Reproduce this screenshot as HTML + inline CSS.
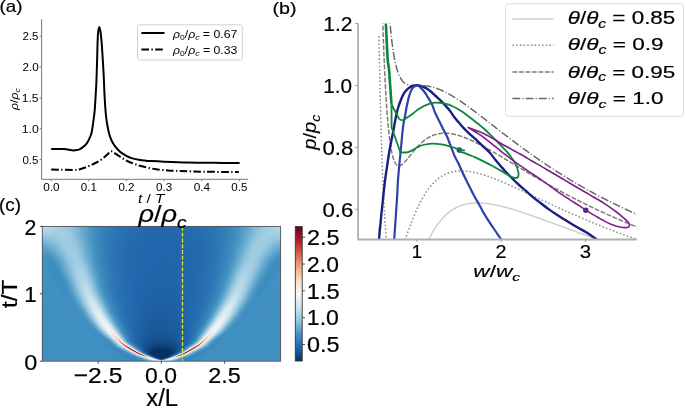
<!DOCTYPE html>
<html><head><meta charset="utf-8"><title>figure</title><style>
html,body{margin:0;padding:0;background:#fff;width:685px;height:408px;overflow:hidden}
#hm{position:absolute;left:42px;top:226px;width:239px;height:135px}
svg{position:absolute;left:0;top:0}
text{font-family:"Liberation Sans",sans-serif;fill:#000}text.b{stroke:#000;stroke-width:0.2px}
</style></head><body>
<svg id="fb" width="685" height="408" style="position:absolute;left:0;top:0"><defs><linearGradient id="h0"><stop offset="0.000" stop-color="#bedbeb"/><stop offset="0.034" stop-color="#b4d6e8"/><stop offset="0.067" stop-color="#a6cfe4"/><stop offset="0.101" stop-color="#99c9e0"/><stop offset="0.134" stop-color="#81bad8"/><stop offset="0.168" stop-color="#63a7ce"/><stop offset="0.202" stop-color="#4795c4"/><stop offset="0.235" stop-color="#3b88bd"/><stop offset="0.269" stop-color="#337eb8"/><stop offset="0.303" stop-color="#2e77b5"/><stop offset="0.336" stop-color="#2a71b2"/><stop offset="0.370" stop-color="#276eb0"/><stop offset="0.403" stop-color="#256baf"/><stop offset="0.437" stop-color="#2469ae"/><stop offset="0.471" stop-color="#2368ad"/><stop offset="0.504" stop-color="#2268ad"/><stop offset="0.538" stop-color="#2268ad"/><stop offset="0.571" stop-color="#2368ad"/><stop offset="0.605" stop-color="#246aae"/><stop offset="0.639" stop-color="#256caf"/><stop offset="0.672" stop-color="#286fb0"/><stop offset="0.706" stop-color="#2b73b3"/><stop offset="0.739" stop-color="#2f79b6"/><stop offset="0.773" stop-color="#3581ba"/><stop offset="0.807" stop-color="#3d8cbf"/><stop offset="0.840" stop-color="#4e9ac7"/><stop offset="0.874" stop-color="#6badd1"/><stop offset="0.908" stop-color="#8ac0db"/><stop offset="0.941" stop-color="#9ecbe1"/><stop offset="0.975" stop-color="#aad1e5"/><stop offset="1.000" stop-color="#b5d7e8"/></linearGradient><linearGradient id="h1"><stop offset="0.000" stop-color="#b2d5e7"/><stop offset="0.034" stop-color="#add3e6"/><stop offset="0.067" stop-color="#a6cfe4"/><stop offset="0.101" stop-color="#9ccae1"/><stop offset="0.134" stop-color="#86bdda"/><stop offset="0.168" stop-color="#66a9cf"/><stop offset="0.202" stop-color="#4896c5"/><stop offset="0.235" stop-color="#3b88be"/><stop offset="0.269" stop-color="#337eb8"/><stop offset="0.303" stop-color="#2d76b4"/><stop offset="0.336" stop-color="#2971b2"/><stop offset="0.370" stop-color="#266db0"/><stop offset="0.403" stop-color="#256bae"/><stop offset="0.437" stop-color="#2369ae"/><stop offset="0.471" stop-color="#2268ad"/><stop offset="0.504" stop-color="#2267ad"/><stop offset="0.538" stop-color="#2267ad"/><stop offset="0.571" stop-color="#2368ad"/><stop offset="0.605" stop-color="#2469ae"/><stop offset="0.639" stop-color="#256baf"/><stop offset="0.672" stop-color="#276eb0"/><stop offset="0.706" stop-color="#2a73b2"/><stop offset="0.739" stop-color="#2f79b6"/><stop offset="0.773" stop-color="#3581ba"/><stop offset="0.807" stop-color="#3e8dc0"/><stop offset="0.840" stop-color="#529cc8"/><stop offset="0.874" stop-color="#71b0d3"/><stop offset="0.908" stop-color="#90c4dd"/><stop offset="0.941" stop-color="#a1cce2"/><stop offset="0.975" stop-color="#a8d0e4"/><stop offset="1.000" stop-color="#aed3e6"/></linearGradient><linearGradient id="h2"><stop offset="0.000" stop-color="#a3cee3"/><stop offset="0.034" stop-color="#a4cee3"/><stop offset="0.067" stop-color="#a3cee3"/><stop offset="0.101" stop-color="#9fcbe2"/><stop offset="0.134" stop-color="#8ac0db"/><stop offset="0.168" stop-color="#68aad0"/><stop offset="0.202" stop-color="#4896c5"/><stop offset="0.235" stop-color="#3a88bd"/><stop offset="0.269" stop-color="#327db8"/><stop offset="0.303" stop-color="#2d75b4"/><stop offset="0.336" stop-color="#2970b1"/><stop offset="0.370" stop-color="#266caf"/><stop offset="0.403" stop-color="#246aae"/><stop offset="0.437" stop-color="#2368ad"/><stop offset="0.471" stop-color="#2267ad"/><stop offset="0.504" stop-color="#2267ac"/><stop offset="0.538" stop-color="#2267ad"/><stop offset="0.571" stop-color="#2268ad"/><stop offset="0.605" stop-color="#2369ae"/><stop offset="0.639" stop-color="#256bae"/><stop offset="0.672" stop-color="#276eb0"/><stop offset="0.706" stop-color="#2a72b2"/><stop offset="0.739" stop-color="#2e78b5"/><stop offset="0.773" stop-color="#3580ba"/><stop offset="0.807" stop-color="#3e8dc0"/><stop offset="0.840" stop-color="#539dc9"/><stop offset="0.874" stop-color="#75b3d4"/><stop offset="0.908" stop-color="#94c6df"/><stop offset="0.941" stop-color="#a2cde3"/><stop offset="0.975" stop-color="#a2cde3"/><stop offset="1.000" stop-color="#a4cee3"/></linearGradient><linearGradient id="h3"><stop offset="0.000" stop-color="#94c6df"/><stop offset="0.034" stop-color="#9ac9e0"/><stop offset="0.067" stop-color="#9fcbe2"/><stop offset="0.101" stop-color="#a0cce2"/><stop offset="0.134" stop-color="#8ec2dd"/><stop offset="0.168" stop-color="#6bacd1"/><stop offset="0.202" stop-color="#4997c5"/><stop offset="0.235" stop-color="#3a87bd"/><stop offset="0.269" stop-color="#327cb7"/><stop offset="0.303" stop-color="#2c75b4"/><stop offset="0.336" stop-color="#286fb1"/><stop offset="0.370" stop-color="#256caf"/><stop offset="0.403" stop-color="#246aae"/><stop offset="0.437" stop-color="#2368ad"/><stop offset="0.471" stop-color="#2267ad"/><stop offset="0.504" stop-color="#2267ac"/><stop offset="0.538" stop-color="#2267ac"/><stop offset="0.571" stop-color="#2268ad"/><stop offset="0.605" stop-color="#2369ad"/><stop offset="0.639" stop-color="#246aae"/><stop offset="0.672" stop-color="#266db0"/><stop offset="0.706" stop-color="#2a71b2"/><stop offset="0.739" stop-color="#2e78b5"/><stop offset="0.773" stop-color="#3581ba"/><stop offset="0.807" stop-color="#3f8dc0"/><stop offset="0.840" stop-color="#569fca"/><stop offset="0.874" stop-color="#7ab6d6"/><stop offset="0.908" stop-color="#98c8e0"/><stop offset="0.941" stop-color="#a1cde2"/><stop offset="0.975" stop-color="#9ccae1"/><stop offset="1.000" stop-color="#99c9e0"/></linearGradient><linearGradient id="h4"><stop offset="0.000" stop-color="#83bbd9"/><stop offset="0.034" stop-color="#8ec2dd"/><stop offset="0.067" stop-color="#99c9e0"/><stop offset="0.101" stop-color="#a1cce2"/><stop offset="0.134" stop-color="#92c5de"/><stop offset="0.168" stop-color="#6eaed2"/><stop offset="0.202" stop-color="#4b98c6"/><stop offset="0.235" stop-color="#3a88bd"/><stop offset="0.269" stop-color="#327cb7"/><stop offset="0.303" stop-color="#2c74b3"/><stop offset="0.336" stop-color="#286fb1"/><stop offset="0.370" stop-color="#256caf"/><stop offset="0.403" stop-color="#2369ae"/><stop offset="0.437" stop-color="#2268ad"/><stop offset="0.471" stop-color="#2267ac"/><stop offset="0.504" stop-color="#2167ac"/><stop offset="0.538" stop-color="#2267ac"/><stop offset="0.571" stop-color="#2267ad"/><stop offset="0.605" stop-color="#2368ad"/><stop offset="0.639" stop-color="#246aae"/><stop offset="0.672" stop-color="#266db0"/><stop offset="0.706" stop-color="#2971b2"/><stop offset="0.739" stop-color="#2e78b5"/><stop offset="0.773" stop-color="#3581ba"/><stop offset="0.807" stop-color="#3f8ec1"/><stop offset="0.840" stop-color="#5aa2cb"/><stop offset="0.874" stop-color="#7fb9d8"/><stop offset="0.908" stop-color="#9ccae1"/><stop offset="0.941" stop-color="#9fcce2"/><stop offset="0.975" stop-color="#93c6de"/><stop offset="1.000" stop-color="#8cc1dc"/></linearGradient><linearGradient id="h5"><stop offset="0.000" stop-color="#72b1d3"/><stop offset="0.034" stop-color="#80bad8"/><stop offset="0.067" stop-color="#93c6de"/><stop offset="0.101" stop-color="#a0cce2"/><stop offset="0.134" stop-color="#95c7df"/><stop offset="0.168" stop-color="#72b1d3"/><stop offset="0.202" stop-color="#4d99c6"/><stop offset="0.235" stop-color="#3b88bd"/><stop offset="0.269" stop-color="#327cb7"/><stop offset="0.303" stop-color="#2c74b3"/><stop offset="0.336" stop-color="#286fb0"/><stop offset="0.370" stop-color="#256baf"/><stop offset="0.403" stop-color="#2369ae"/><stop offset="0.437" stop-color="#2268ad"/><stop offset="0.471" stop-color="#2267ac"/><stop offset="0.504" stop-color="#2166ac"/><stop offset="0.538" stop-color="#2167ac"/><stop offset="0.571" stop-color="#2267ad"/><stop offset="0.605" stop-color="#2368ad"/><stop offset="0.639" stop-color="#246aae"/><stop offset="0.672" stop-color="#266db0"/><stop offset="0.706" stop-color="#2971b2"/><stop offset="0.739" stop-color="#2e78b5"/><stop offset="0.773" stop-color="#3681ba"/><stop offset="0.807" stop-color="#4090c1"/><stop offset="0.840" stop-color="#5ea4cc"/><stop offset="0.874" stop-color="#85bdda"/><stop offset="0.908" stop-color="#9ecbe2"/><stop offset="0.941" stop-color="#9ccae1"/><stop offset="0.975" stop-color="#89bfdb"/><stop offset="1.000" stop-color="#7db8d7"/></linearGradient><linearGradient id="h6"><stop offset="0.000" stop-color="#63a7ce"/><stop offset="0.034" stop-color="#73b1d3"/><stop offset="0.067" stop-color="#8bc1dc"/><stop offset="0.101" stop-color="#9fcce2"/><stop offset="0.134" stop-color="#99c8e0"/><stop offset="0.168" stop-color="#76b3d5"/><stop offset="0.202" stop-color="#4f9bc7"/><stop offset="0.235" stop-color="#3b88be"/><stop offset="0.269" stop-color="#327cb7"/><stop offset="0.303" stop-color="#2c74b3"/><stop offset="0.336" stop-color="#286fb0"/><stop offset="0.370" stop-color="#256baf"/><stop offset="0.403" stop-color="#2369ad"/><stop offset="0.437" stop-color="#2267ad"/><stop offset="0.471" stop-color="#2167ac"/><stop offset="0.504" stop-color="#2166ac"/><stop offset="0.538" stop-color="#2166ac"/><stop offset="0.571" stop-color="#2267ac"/><stop offset="0.605" stop-color="#2368ad"/><stop offset="0.639" stop-color="#246aae"/><stop offset="0.672" stop-color="#266daf"/><stop offset="0.706" stop-color="#2971b2"/><stop offset="0.739" stop-color="#2f78b5"/><stop offset="0.773" stop-color="#3682ba"/><stop offset="0.807" stop-color="#4291c2"/><stop offset="0.840" stop-color="#63a8ce"/><stop offset="0.874" stop-color="#8cc1dc"/><stop offset="0.908" stop-color="#a0cce2"/><stop offset="0.941" stop-color="#97c7df"/><stop offset="0.975" stop-color="#7db8d7"/><stop offset="1.000" stop-color="#6eaed2"/></linearGradient><linearGradient id="h7"><stop offset="0.000" stop-color="#569fc9"/><stop offset="0.034" stop-color="#66a9cf"/><stop offset="0.067" stop-color="#82bbd9"/><stop offset="0.101" stop-color="#9ccae1"/><stop offset="0.134" stop-color="#9ccae1"/><stop offset="0.168" stop-color="#7bb7d6"/><stop offset="0.202" stop-color="#529dc8"/><stop offset="0.235" stop-color="#3c89be"/><stop offset="0.269" stop-color="#327cb7"/><stop offset="0.303" stop-color="#2c74b3"/><stop offset="0.336" stop-color="#276eb0"/><stop offset="0.370" stop-color="#256baf"/><stop offset="0.403" stop-color="#2369ad"/><stop offset="0.437" stop-color="#2267ad"/><stop offset="0.471" stop-color="#2166ac"/><stop offset="0.504" stop-color="#2166ac"/><stop offset="0.538" stop-color="#2166ac"/><stop offset="0.571" stop-color="#2267ac"/><stop offset="0.605" stop-color="#2268ad"/><stop offset="0.639" stop-color="#246aae"/><stop offset="0.672" stop-color="#266daf"/><stop offset="0.706" stop-color="#2a71b2"/><stop offset="0.739" stop-color="#2f78b5"/><stop offset="0.773" stop-color="#3783bb"/><stop offset="0.807" stop-color="#4393c3"/><stop offset="0.840" stop-color="#69abd0"/><stop offset="0.874" stop-color="#92c5de"/><stop offset="0.908" stop-color="#a0cce2"/><stop offset="0.941" stop-color="#8fc3dd"/><stop offset="0.975" stop-color="#70b0d3"/><stop offset="1.000" stop-color="#5fa5cd"/></linearGradient><linearGradient id="h8"><stop offset="0.000" stop-color="#4c99c6"/><stop offset="0.034" stop-color="#59a1ca"/><stop offset="0.067" stop-color="#78b4d5"/><stop offset="0.101" stop-color="#98c8e0"/><stop offset="0.134" stop-color="#9ecbe1"/><stop offset="0.168" stop-color="#80bad8"/><stop offset="0.202" stop-color="#559ec9"/><stop offset="0.235" stop-color="#3c8abe"/><stop offset="0.269" stop-color="#327cb7"/><stop offset="0.303" stop-color="#2b74b3"/><stop offset="0.336" stop-color="#276eb0"/><stop offset="0.370" stop-color="#256bae"/><stop offset="0.403" stop-color="#2368ad"/><stop offset="0.437" stop-color="#2267ad"/><stop offset="0.471" stop-color="#2166ac"/><stop offset="0.504" stop-color="#2166ac"/><stop offset="0.538" stop-color="#2166ac"/><stop offset="0.571" stop-color="#2167ac"/><stop offset="0.605" stop-color="#2268ad"/><stop offset="0.639" stop-color="#246aae"/><stop offset="0.672" stop-color="#266daf"/><stop offset="0.706" stop-color="#2a71b2"/><stop offset="0.739" stop-color="#2f79b6"/><stop offset="0.773" stop-color="#3884bb"/><stop offset="0.807" stop-color="#4695c4"/><stop offset="0.840" stop-color="#6fafd2"/><stop offset="0.874" stop-color="#97c7df"/><stop offset="0.908" stop-color="#9fcbe2"/><stop offset="0.941" stop-color="#86bdda"/><stop offset="0.975" stop-color="#63a7ce"/><stop offset="1.000" stop-color="#519cc8"/></linearGradient><linearGradient id="h9"><stop offset="0.000" stop-color="#4595c4"/><stop offset="0.034" stop-color="#4d99c6"/><stop offset="0.067" stop-color="#6daed1"/><stop offset="0.101" stop-color="#93c6de"/><stop offset="0.134" stop-color="#a0cce2"/><stop offset="0.168" stop-color="#85bdda"/><stop offset="0.202" stop-color="#58a0ca"/><stop offset="0.235" stop-color="#3c8abf"/><stop offset="0.269" stop-color="#327cb7"/><stop offset="0.303" stop-color="#2b74b3"/><stop offset="0.336" stop-color="#276eb0"/><stop offset="0.370" stop-color="#246aae"/><stop offset="0.403" stop-color="#2368ad"/><stop offset="0.437" stop-color="#2267ac"/><stop offset="0.471" stop-color="#2166ac"/><stop offset="0.504" stop-color="#2166ab"/><stop offset="0.538" stop-color="#2166ac"/><stop offset="0.571" stop-color="#2166ac"/><stop offset="0.605" stop-color="#2268ad"/><stop offset="0.639" stop-color="#246aae"/><stop offset="0.672" stop-color="#266daf"/><stop offset="0.706" stop-color="#2a71b2"/><stop offset="0.739" stop-color="#2f79b6"/><stop offset="0.773" stop-color="#3885bc"/><stop offset="0.807" stop-color="#4a97c5"/><stop offset="0.840" stop-color="#75b3d4"/><stop offset="0.874" stop-color="#9bc9e1"/><stop offset="0.908" stop-color="#9bcae1"/><stop offset="0.941" stop-color="#7bb6d6"/><stop offset="0.975" stop-color="#569fca"/><stop offset="1.000" stop-color="#4695c4"/></linearGradient><linearGradient id="h10"><stop offset="0.000" stop-color="#4392c3"/><stop offset="0.034" stop-color="#4493c3"/><stop offset="0.067" stop-color="#62a7ce"/><stop offset="0.101" stop-color="#8cc1dc"/><stop offset="0.134" stop-color="#a0cce2"/><stop offset="0.168" stop-color="#8ac0db"/><stop offset="0.202" stop-color="#5aa2cb"/><stop offset="0.235" stop-color="#3d8bbf"/><stop offset="0.269" stop-color="#327cb7"/><stop offset="0.303" stop-color="#2b73b3"/><stop offset="0.336" stop-color="#276eb0"/><stop offset="0.370" stop-color="#246aae"/><stop offset="0.403" stop-color="#2268ad"/><stop offset="0.437" stop-color="#2167ac"/><stop offset="0.471" stop-color="#2166ac"/><stop offset="0.504" stop-color="#2165ab"/><stop offset="0.538" stop-color="#2166ab"/><stop offset="0.571" stop-color="#2166ac"/><stop offset="0.605" stop-color="#2267ad"/><stop offset="0.639" stop-color="#2469ae"/><stop offset="0.672" stop-color="#266caf"/><stop offset="0.706" stop-color="#2971b2"/><stop offset="0.739" stop-color="#2f79b6"/><stop offset="0.773" stop-color="#3985bc"/><stop offset="0.807" stop-color="#4d99c6"/><stop offset="0.840" stop-color="#7bb6d6"/><stop offset="0.874" stop-color="#9ecbe1"/><stop offset="0.908" stop-color="#96c7df"/><stop offset="0.941" stop-color="#6fafd2"/><stop offset="0.975" stop-color="#4a97c5"/><stop offset="1.000" stop-color="#4191c2"/></linearGradient><linearGradient id="h11"><stop offset="0.000" stop-color="#4292c2"/><stop offset="0.034" stop-color="#408fc1"/><stop offset="0.067" stop-color="#57a0ca"/><stop offset="0.101" stop-color="#84bcd9"/><stop offset="0.134" stop-color="#a0cce2"/><stop offset="0.168" stop-color="#8fc3dd"/><stop offset="0.202" stop-color="#5da4cc"/><stop offset="0.235" stop-color="#3d8bbf"/><stop offset="0.269" stop-color="#327cb7"/><stop offset="0.303" stop-color="#2b73b3"/><stop offset="0.336" stop-color="#276db0"/><stop offset="0.370" stop-color="#246aae"/><stop offset="0.403" stop-color="#2268ad"/><stop offset="0.437" stop-color="#2166ac"/><stop offset="0.471" stop-color="#2166ab"/><stop offset="0.504" stop-color="#2165ab"/><stop offset="0.538" stop-color="#2165ab"/><stop offset="0.571" stop-color="#2166ac"/><stop offset="0.605" stop-color="#2267ad"/><stop offset="0.639" stop-color="#2369ae"/><stop offset="0.672" stop-color="#266caf"/><stop offset="0.706" stop-color="#2971b2"/><stop offset="0.739" stop-color="#2f79b6"/><stop offset="0.773" stop-color="#3986bc"/><stop offset="0.807" stop-color="#519cc8"/><stop offset="0.840" stop-color="#82bbd8"/><stop offset="0.874" stop-color="#a0cce2"/><stop offset="0.908" stop-color="#90c3dd"/><stop offset="0.941" stop-color="#63a7ce"/><stop offset="0.975" stop-color="#4291c2"/><stop offset="1.000" stop-color="#408fc1"/></linearGradient><linearGradient id="h12"><stop offset="0.000" stop-color="#4292c2"/><stop offset="0.034" stop-color="#3f8dc0"/><stop offset="0.067" stop-color="#4f9bc7"/><stop offset="0.101" stop-color="#7db8d7"/><stop offset="0.134" stop-color="#a1cde2"/><stop offset="0.168" stop-color="#97c7df"/><stop offset="0.202" stop-color="#64a8ce"/><stop offset="0.235" stop-color="#3e8dc0"/><stop offset="0.269" stop-color="#327db8"/><stop offset="0.303" stop-color="#2b73b3"/><stop offset="0.336" stop-color="#276db0"/><stop offset="0.370" stop-color="#246aae"/><stop offset="0.403" stop-color="#2268ad"/><stop offset="0.437" stop-color="#2166ac"/><stop offset="0.471" stop-color="#2165ab"/><stop offset="0.504" stop-color="#2065ab"/><stop offset="0.538" stop-color="#2165ab"/><stop offset="0.571" stop-color="#2166ac"/><stop offset="0.605" stop-color="#2267ad"/><stop offset="0.639" stop-color="#2369ae"/><stop offset="0.672" stop-color="#266caf"/><stop offset="0.706" stop-color="#2a71b2"/><stop offset="0.739" stop-color="#307ab6"/><stop offset="0.773" stop-color="#3b88bd"/><stop offset="0.807" stop-color="#57a0ca"/><stop offset="0.840" stop-color="#8cc1dc"/><stop offset="0.874" stop-color="#a4cee3"/><stop offset="0.908" stop-color="#89bfdb"/><stop offset="0.941" stop-color="#5aa1cb"/><stop offset="0.975" stop-color="#3f8ec1"/><stop offset="1.000" stop-color="#408fc1"/></linearGradient><linearGradient id="h13"><stop offset="0.000" stop-color="#4292c2"/><stop offset="0.034" stop-color="#3e8dc0"/><stop offset="0.067" stop-color="#4796c5"/><stop offset="0.101" stop-color="#76b4d5"/><stop offset="0.134" stop-color="#a1cce2"/><stop offset="0.168" stop-color="#9ecbe1"/><stop offset="0.202" stop-color="#6bacd1"/><stop offset="0.235" stop-color="#408fc1"/><stop offset="0.269" stop-color="#337eb8"/><stop offset="0.303" stop-color="#2b73b3"/><stop offset="0.336" stop-color="#276db0"/><stop offset="0.370" stop-color="#246aae"/><stop offset="0.403" stop-color="#2267ad"/><stop offset="0.437" stop-color="#2166ac"/><stop offset="0.471" stop-color="#2065ab"/><stop offset="0.504" stop-color="#2065aa"/><stop offset="0.538" stop-color="#2065aa"/><stop offset="0.571" stop-color="#2166ac"/><stop offset="0.605" stop-color="#2267ad"/><stop offset="0.639" stop-color="#2369ae"/><stop offset="0.672" stop-color="#266daf"/><stop offset="0.706" stop-color="#2a72b2"/><stop offset="0.739" stop-color="#317bb7"/><stop offset="0.773" stop-color="#3c8abe"/><stop offset="0.807" stop-color="#5fa5cd"/><stop offset="0.840" stop-color="#96c7df"/><stop offset="0.874" stop-color="#a5cfe3"/><stop offset="0.908" stop-color="#82bbd8"/><stop offset="0.941" stop-color="#509bc7"/><stop offset="0.975" stop-color="#3e8dc0"/><stop offset="1.000" stop-color="#408fc1"/></linearGradient><linearGradient id="h14"><stop offset="0.000" stop-color="#4292c2"/><stop offset="0.034" stop-color="#3f8dc0"/><stop offset="0.067" stop-color="#4292c2"/><stop offset="0.101" stop-color="#6fafd2"/><stop offset="0.134" stop-color="#9fcce2"/><stop offset="0.168" stop-color="#a4cee3"/><stop offset="0.202" stop-color="#72b1d3"/><stop offset="0.235" stop-color="#4191c2"/><stop offset="0.269" stop-color="#337eb8"/><stop offset="0.303" stop-color="#2b74b3"/><stop offset="0.336" stop-color="#276eb0"/><stop offset="0.370" stop-color="#246aae"/><stop offset="0.403" stop-color="#2267ad"/><stop offset="0.437" stop-color="#2166ac"/><stop offset="0.471" stop-color="#2065aa"/><stop offset="0.504" stop-color="#2064aa"/><stop offset="0.538" stop-color="#2065aa"/><stop offset="0.571" stop-color="#2166ab"/><stop offset="0.605" stop-color="#2267ac"/><stop offset="0.639" stop-color="#2369ae"/><stop offset="0.672" stop-color="#266daf"/><stop offset="0.706" stop-color="#2a72b2"/><stop offset="0.739" stop-color="#327cb7"/><stop offset="0.773" stop-color="#3e8cc0"/><stop offset="0.807" stop-color="#67aacf"/><stop offset="0.840" stop-color="#9ecbe2"/><stop offset="0.874" stop-color="#a4cee3"/><stop offset="0.908" stop-color="#79b5d5"/><stop offset="0.941" stop-color="#4796c5"/><stop offset="0.975" stop-color="#3e8cc0"/><stop offset="1.000" stop-color="#4190c2"/></linearGradient><linearGradient id="h15"><stop offset="0.000" stop-color="#4292c2"/><stop offset="0.034" stop-color="#3f8ec0"/><stop offset="0.067" stop-color="#408fc1"/><stop offset="0.101" stop-color="#67aacf"/><stop offset="0.134" stop-color="#9ccae1"/><stop offset="0.168" stop-color="#abd1e5"/><stop offset="0.202" stop-color="#7bb6d6"/><stop offset="0.235" stop-color="#4393c3"/><stop offset="0.269" stop-color="#347fb9"/><stop offset="0.303" stop-color="#2c74b3"/><stop offset="0.336" stop-color="#276eb0"/><stop offset="0.370" stop-color="#246aae"/><stop offset="0.403" stop-color="#2267ad"/><stop offset="0.437" stop-color="#2166ab"/><stop offset="0.471" stop-color="#2064aa"/><stop offset="0.504" stop-color="#2064a9"/><stop offset="0.538" stop-color="#2064aa"/><stop offset="0.571" stop-color="#2165ab"/><stop offset="0.605" stop-color="#2267ac"/><stop offset="0.639" stop-color="#2369ae"/><stop offset="0.672" stop-color="#266daf"/><stop offset="0.706" stop-color="#2b73b3"/><stop offset="0.739" stop-color="#327db8"/><stop offset="0.773" stop-color="#408fc1"/><stop offset="0.807" stop-color="#71b0d3"/><stop offset="0.840" stop-color="#a6cfe4"/><stop offset="0.874" stop-color="#a2cde3"/><stop offset="0.908" stop-color="#6fafd2"/><stop offset="0.941" stop-color="#4291c2"/><stop offset="0.975" stop-color="#3f8dc0"/><stop offset="1.000" stop-color="#4191c2"/></linearGradient><linearGradient id="h16"><stop offset="0.000" stop-color="#4291c2"/><stop offset="0.034" stop-color="#408fc1"/><stop offset="0.067" stop-color="#3f8dc0"/><stop offset="0.101" stop-color="#5ea4cc"/><stop offset="0.134" stop-color="#98c8e0"/><stop offset="0.168" stop-color="#b0d4e6"/><stop offset="0.202" stop-color="#84bcd9"/><stop offset="0.235" stop-color="#4896c5"/><stop offset="0.269" stop-color="#3580b9"/><stop offset="0.303" stop-color="#2c74b3"/><stop offset="0.336" stop-color="#276eb0"/><stop offset="0.370" stop-color="#246aae"/><stop offset="0.403" stop-color="#2267ad"/><stop offset="0.437" stop-color="#2165ab"/><stop offset="0.471" stop-color="#2064aa"/><stop offset="0.504" stop-color="#2064a9"/><stop offset="0.538" stop-color="#2064a9"/><stop offset="0.571" stop-color="#2165ab"/><stop offset="0.605" stop-color="#2267ac"/><stop offset="0.639" stop-color="#2369ae"/><stop offset="0.672" stop-color="#266db0"/><stop offset="0.706" stop-color="#2b73b3"/><stop offset="0.739" stop-color="#337eb8"/><stop offset="0.773" stop-color="#4392c3"/><stop offset="0.807" stop-color="#7bb6d6"/><stop offset="0.840" stop-color="#aed3e6"/><stop offset="0.874" stop-color="#9dcbe1"/><stop offset="0.908" stop-color="#65a9cf"/><stop offset="0.941" stop-color="#408fc1"/><stop offset="0.975" stop-color="#3f8ec1"/><stop offset="1.000" stop-color="#4291c2"/></linearGradient><linearGradient id="h17"><stop offset="0.000" stop-color="#4291c2"/><stop offset="0.034" stop-color="#4190c1"/><stop offset="0.067" stop-color="#3e8dc0"/><stop offset="0.101" stop-color="#559ec9"/><stop offset="0.134" stop-color="#92c5de"/><stop offset="0.168" stop-color="#b3d6e8"/><stop offset="0.202" stop-color="#8ec2dc"/><stop offset="0.235" stop-color="#4c99c6"/><stop offset="0.269" stop-color="#3681ba"/><stop offset="0.303" stop-color="#2c75b4"/><stop offset="0.336" stop-color="#276eb0"/><stop offset="0.370" stop-color="#2469ae"/><stop offset="0.403" stop-color="#2267ac"/><stop offset="0.437" stop-color="#2065ab"/><stop offset="0.471" stop-color="#2064a9"/><stop offset="0.504" stop-color="#2064a9"/><stop offset="0.538" stop-color="#2064a9"/><stop offset="0.571" stop-color="#2065aa"/><stop offset="0.605" stop-color="#2167ac"/><stop offset="0.639" stop-color="#2369ae"/><stop offset="0.672" stop-color="#266db0"/><stop offset="0.706" stop-color="#2b74b3"/><stop offset="0.739" stop-color="#3480b9"/><stop offset="0.773" stop-color="#4796c4"/><stop offset="0.807" stop-color="#86beda"/><stop offset="0.840" stop-color="#b3d6e7"/><stop offset="0.874" stop-color="#97c7df"/><stop offset="0.908" stop-color="#5aa2cb"/><stop offset="0.941" stop-color="#3e8dc0"/><stop offset="0.975" stop-color="#4090c1"/><stop offset="1.000" stop-color="#4291c2"/></linearGradient><linearGradient id="h18"><stop offset="0.000" stop-color="#4191c2"/><stop offset="0.034" stop-color="#4191c2"/><stop offset="0.067" stop-color="#3e8dc0"/><stop offset="0.101" stop-color="#4c99c6"/><stop offset="0.134" stop-color="#89c0db"/><stop offset="0.168" stop-color="#b5d7e8"/><stop offset="0.202" stop-color="#96c7df"/><stop offset="0.235" stop-color="#519cc8"/><stop offset="0.269" stop-color="#3682ba"/><stop offset="0.303" stop-color="#2c75b4"/><stop offset="0.336" stop-color="#276eb0"/><stop offset="0.370" stop-color="#2469ae"/><stop offset="0.403" stop-color="#2267ac"/><stop offset="0.437" stop-color="#2065aa"/><stop offset="0.471" stop-color="#2064a9"/><stop offset="0.504" stop-color="#2063a8"/><stop offset="0.538" stop-color="#2063a9"/><stop offset="0.571" stop-color="#2065aa"/><stop offset="0.605" stop-color="#2167ac"/><stop offset="0.639" stop-color="#2369ae"/><stop offset="0.672" stop-color="#266db0"/><stop offset="0.706" stop-color="#2c74b3"/><stop offset="0.739" stop-color="#3581ba"/><stop offset="0.773" stop-color="#4d99c6"/><stop offset="0.807" stop-color="#92c5de"/><stop offset="0.840" stop-color="#b6d7e8"/><stop offset="0.874" stop-color="#8ec3dd"/><stop offset="0.908" stop-color="#509bc7"/><stop offset="0.941" stop-color="#3e8dc0"/><stop offset="0.975" stop-color="#4191c2"/><stop offset="1.000" stop-color="#4191c2"/></linearGradient><linearGradient id="h19"><stop offset="0.000" stop-color="#4190c2"/><stop offset="0.034" stop-color="#4191c2"/><stop offset="0.067" stop-color="#3f8ec0"/><stop offset="0.101" stop-color="#4594c4"/><stop offset="0.134" stop-color="#80bad8"/><stop offset="0.168" stop-color="#b6d7e8"/><stop offset="0.202" stop-color="#9fcce2"/><stop offset="0.235" stop-color="#579fca"/><stop offset="0.269" stop-color="#3783bb"/><stop offset="0.303" stop-color="#2d75b4"/><stop offset="0.336" stop-color="#276eb0"/><stop offset="0.370" stop-color="#2369ae"/><stop offset="0.403" stop-color="#2166ac"/><stop offset="0.437" stop-color="#2064aa"/><stop offset="0.471" stop-color="#2063a8"/><stop offset="0.504" stop-color="#1f63a8"/><stop offset="0.538" stop-color="#2063a8"/><stop offset="0.571" stop-color="#2064aa"/><stop offset="0.605" stop-color="#2166ac"/><stop offset="0.639" stop-color="#2369ae"/><stop offset="0.672" stop-color="#276db0"/><stop offset="0.706" stop-color="#2c75b4"/><stop offset="0.739" stop-color="#3682ba"/><stop offset="0.773" stop-color="#549dc9"/><stop offset="0.807" stop-color="#9ccae1"/><stop offset="0.840" stop-color="#b7d8e9"/><stop offset="0.874" stop-color="#84bcd9"/><stop offset="0.908" stop-color="#4795c4"/><stop offset="0.941" stop-color="#3f8dc0"/><stop offset="0.975" stop-color="#4191c2"/><stop offset="1.000" stop-color="#4191c2"/></linearGradient><linearGradient id="h20"><stop offset="0.000" stop-color="#4190c1"/><stop offset="0.034" stop-color="#4191c2"/><stop offset="0.067" stop-color="#408fc1"/><stop offset="0.101" stop-color="#4191c2"/><stop offset="0.134" stop-color="#76b3d5"/><stop offset="0.168" stop-color="#b4d6e8"/><stop offset="0.202" stop-color="#a8d0e4"/><stop offset="0.235" stop-color="#5da4cc"/><stop offset="0.269" stop-color="#3885bc"/><stop offset="0.303" stop-color="#2d76b4"/><stop offset="0.336" stop-color="#276eb0"/><stop offset="0.370" stop-color="#2369ae"/><stop offset="0.403" stop-color="#2166ac"/><stop offset="0.437" stop-color="#2064a9"/><stop offset="0.471" stop-color="#1f63a8"/><stop offset="0.504" stop-color="#1f62a7"/><stop offset="0.538" stop-color="#1f63a8"/><stop offset="0.571" stop-color="#2064a9"/><stop offset="0.605" stop-color="#2166ac"/><stop offset="0.639" stop-color="#2369ae"/><stop offset="0.672" stop-color="#276eb0"/><stop offset="0.706" stop-color="#2d75b4"/><stop offset="0.739" stop-color="#3884bb"/><stop offset="0.773" stop-color="#5ca3cb"/><stop offset="0.807" stop-color="#a7d0e4"/><stop offset="0.840" stop-color="#b5d7e8"/><stop offset="0.874" stop-color="#78b5d5"/><stop offset="0.908" stop-color="#4291c2"/><stop offset="0.941" stop-color="#408fc1"/><stop offset="0.975" stop-color="#4191c2"/><stop offset="1.000" stop-color="#4190c2"/></linearGradient><linearGradient id="h21"><stop offset="0.000" stop-color="#4190c1"/><stop offset="0.034" stop-color="#4191c2"/><stop offset="0.067" stop-color="#4090c1"/><stop offset="0.101" stop-color="#408fc1"/><stop offset="0.134" stop-color="#6cadd1"/><stop offset="0.168" stop-color="#b0d4e6"/><stop offset="0.202" stop-color="#b2d5e7"/><stop offset="0.235" stop-color="#66a9cf"/><stop offset="0.269" stop-color="#3a87bd"/><stop offset="0.303" stop-color="#2d76b4"/><stop offset="0.336" stop-color="#276eb0"/><stop offset="0.370" stop-color="#2369ae"/><stop offset="0.403" stop-color="#2166ac"/><stop offset="0.437" stop-color="#2064a9"/><stop offset="0.471" stop-color="#1f62a7"/><stop offset="0.504" stop-color="#1f62a6"/><stop offset="0.538" stop-color="#1f62a7"/><stop offset="0.571" stop-color="#2064a9"/><stop offset="0.605" stop-color="#2166ac"/><stop offset="0.639" stop-color="#2369ae"/><stop offset="0.672" stop-color="#276eb0"/><stop offset="0.706" stop-color="#2d76b4"/><stop offset="0.739" stop-color="#3a87bd"/><stop offset="0.773" stop-color="#66a9cf"/><stop offset="0.807" stop-color="#b2d5e7"/><stop offset="0.840" stop-color="#b0d4e6"/><stop offset="0.874" stop-color="#6cadd1"/><stop offset="0.908" stop-color="#408fc1"/><stop offset="0.941" stop-color="#4090c1"/><stop offset="0.975" stop-color="#4191c2"/><stop offset="1.000" stop-color="#4190c1"/></linearGradient><linearGradient id="h22"><stop offset="0.000" stop-color="#4090c1"/><stop offset="0.034" stop-color="#4191c2"/><stop offset="0.067" stop-color="#4190c2"/><stop offset="0.101" stop-color="#3f8ec0"/><stop offset="0.134" stop-color="#61a6cd"/><stop offset="0.168" stop-color="#a9d1e5"/><stop offset="0.202" stop-color="#bddbea"/><stop offset="0.235" stop-color="#71b0d3"/><stop offset="0.269" stop-color="#3c89be"/><stop offset="0.303" stop-color="#2e77b5"/><stop offset="0.336" stop-color="#276eb0"/><stop offset="0.370" stop-color="#2369ae"/><stop offset="0.403" stop-color="#2166ac"/><stop offset="0.437" stop-color="#2063a8"/><stop offset="0.471" stop-color="#1f62a6"/><stop offset="0.504" stop-color="#1f61a6"/><stop offset="0.538" stop-color="#1f62a6"/><stop offset="0.571" stop-color="#2063a8"/><stop offset="0.605" stop-color="#2166ac"/><stop offset="0.639" stop-color="#2369ae"/><stop offset="0.672" stop-color="#276eb0"/><stop offset="0.706" stop-color="#2e78b5"/><stop offset="0.739" stop-color="#3c8abe"/><stop offset="0.773" stop-color="#73b1d3"/><stop offset="0.807" stop-color="#bddbea"/><stop offset="0.840" stop-color="#a7d0e4"/><stop offset="0.874" stop-color="#5fa5cd"/><stop offset="0.908" stop-color="#3f8dc0"/><stop offset="0.941" stop-color="#4190c2"/><stop offset="0.975" stop-color="#4191c2"/><stop offset="1.000" stop-color="#4190c1"/></linearGradient><linearGradient id="h23"><stop offset="0.000" stop-color="#4090c1"/><stop offset="0.034" stop-color="#4190c2"/><stop offset="0.067" stop-color="#4191c2"/><stop offset="0.101" stop-color="#3f8ec0"/><stop offset="0.134" stop-color="#559fc9"/><stop offset="0.168" stop-color="#a1cde2"/><stop offset="0.202" stop-color="#c8e0ed"/><stop offset="0.235" stop-color="#81bad8"/><stop offset="0.269" stop-color="#3e8dc0"/><stop offset="0.303" stop-color="#2f79b6"/><stop offset="0.336" stop-color="#286fb0"/><stop offset="0.370" stop-color="#2369ae"/><stop offset="0.403" stop-color="#2166ab"/><stop offset="0.437" stop-color="#1f63a8"/><stop offset="0.471" stop-color="#1f61a6"/><stop offset="0.504" stop-color="#1e61a5"/><stop offset="0.538" stop-color="#1f62a6"/><stop offset="0.571" stop-color="#1f63a8"/><stop offset="0.605" stop-color="#2166ac"/><stop offset="0.639" stop-color="#2469ae"/><stop offset="0.672" stop-color="#286fb1"/><stop offset="0.706" stop-color="#3079b6"/><stop offset="0.739" stop-color="#3f8ec1"/><stop offset="0.773" stop-color="#86bdda"/><stop offset="0.807" stop-color="#c8e1ee"/><stop offset="0.840" stop-color="#9ecbe1"/><stop offset="0.874" stop-color="#539dc8"/><stop offset="0.908" stop-color="#3f8ec0"/><stop offset="0.941" stop-color="#4191c2"/><stop offset="0.975" stop-color="#4190c2"/><stop offset="1.000" stop-color="#4090c1"/></linearGradient><linearGradient id="h24"><stop offset="0.000" stop-color="#408fc1"/><stop offset="0.034" stop-color="#4190c1"/><stop offset="0.067" stop-color="#4291c2"/><stop offset="0.101" stop-color="#408fc1"/><stop offset="0.134" stop-color="#4a98c6"/><stop offset="0.168" stop-color="#96c7df"/><stop offset="0.202" stop-color="#cfe4ef"/><stop offset="0.235" stop-color="#94c6df"/><stop offset="0.269" stop-color="#4292c2"/><stop offset="0.303" stop-color="#307ab6"/><stop offset="0.336" stop-color="#286fb1"/><stop offset="0.370" stop-color="#2369ae"/><stop offset="0.403" stop-color="#2165ab"/><stop offset="0.437" stop-color="#1f63a7"/><stop offset="0.471" stop-color="#1e61a5"/><stop offset="0.504" stop-color="#1e60a4"/><stop offset="0.538" stop-color="#1e61a5"/><stop offset="0.571" stop-color="#1f63a7"/><stop offset="0.605" stop-color="#2166ab"/><stop offset="0.639" stop-color="#2469ae"/><stop offset="0.672" stop-color="#2870b1"/><stop offset="0.706" stop-color="#317bb7"/><stop offset="0.739" stop-color="#4594c4"/><stop offset="0.773" stop-color="#9ac9e0"/><stop offset="0.807" stop-color="#cee3ef"/><stop offset="0.840" stop-color="#91c4de"/><stop offset="0.874" stop-color="#4796c5"/><stop offset="0.908" stop-color="#408fc1"/><stop offset="0.941" stop-color="#4191c2"/><stop offset="0.975" stop-color="#4190c1"/><stop offset="1.000" stop-color="#408fc1"/></linearGradient><linearGradient id="h25"><stop offset="0.000" stop-color="#408fc1"/><stop offset="0.034" stop-color="#4190c1"/><stop offset="0.067" stop-color="#4191c2"/><stop offset="0.101" stop-color="#4190c1"/><stop offset="0.134" stop-color="#4392c3"/><stop offset="0.168" stop-color="#86beda"/><stop offset="0.202" stop-color="#d0e5f0"/><stop offset="0.235" stop-color="#a7cfe4"/><stop offset="0.269" stop-color="#4b98c6"/><stop offset="0.303" stop-color="#327cb7"/><stop offset="0.336" stop-color="#2870b1"/><stop offset="0.370" stop-color="#2369ae"/><stop offset="0.403" stop-color="#2165ab"/><stop offset="0.437" stop-color="#1f62a7"/><stop offset="0.471" stop-color="#1e60a4"/><stop offset="0.504" stop-color="#1e60a4"/><stop offset="0.538" stop-color="#1e60a4"/><stop offset="0.571" stop-color="#1f62a7"/><stop offset="0.605" stop-color="#2165ab"/><stop offset="0.639" stop-color="#246aae"/><stop offset="0.672" stop-color="#2970b1"/><stop offset="0.706" stop-color="#337eb8"/><stop offset="0.739" stop-color="#519cc8"/><stop offset="0.773" stop-color="#aed3e6"/><stop offset="0.807" stop-color="#cce2ef"/><stop offset="0.840" stop-color="#7eb9d7"/><stop offset="0.874" stop-color="#4191c2"/><stop offset="0.908" stop-color="#4190c2"/><stop offset="0.941" stop-color="#4191c2"/><stop offset="0.975" stop-color="#4090c1"/><stop offset="1.000" stop-color="#408fc1"/></linearGradient><linearGradient id="h26"><stop offset="0.000" stop-color="#408fc1"/><stop offset="0.034" stop-color="#4090c1"/><stop offset="0.067" stop-color="#4190c2"/><stop offset="0.101" stop-color="#4191c2"/><stop offset="0.134" stop-color="#408fc1"/><stop offset="0.168" stop-color="#74b2d4"/><stop offset="0.202" stop-color="#cae2ee"/><stop offset="0.235" stop-color="#bcdaea"/><stop offset="0.269" stop-color="#58a0ca"/><stop offset="0.303" stop-color="#347fb9"/><stop offset="0.336" stop-color="#2970b1"/><stop offset="0.370" stop-color="#2369ae"/><stop offset="0.403" stop-color="#2065aa"/><stop offset="0.437" stop-color="#1f62a6"/><stop offset="0.471" stop-color="#1e60a3"/><stop offset="0.504" stop-color="#1e5fa3"/><stop offset="0.538" stop-color="#1e60a4"/><stop offset="0.571" stop-color="#1f62a6"/><stop offset="0.605" stop-color="#2165ab"/><stop offset="0.639" stop-color="#246aae"/><stop offset="0.672" stop-color="#2a71b2"/><stop offset="0.706" stop-color="#3581ba"/><stop offset="0.739" stop-color="#61a6cd"/><stop offset="0.773" stop-color="#c5dfed"/><stop offset="0.807" stop-color="#c3deec"/><stop offset="0.840" stop-color="#6aacd0"/><stop offset="0.874" stop-color="#408fc1"/><stop offset="0.908" stop-color="#4191c2"/><stop offset="0.941" stop-color="#4190c2"/><stop offset="0.975" stop-color="#408fc1"/><stop offset="1.000" stop-color="#408fc1"/></linearGradient><linearGradient id="h27"><stop offset="0.000" stop-color="#408fc1"/><stop offset="0.034" stop-color="#408fc1"/><stop offset="0.067" stop-color="#4190c1"/><stop offset="0.101" stop-color="#4291c2"/><stop offset="0.134" stop-color="#408fc1"/><stop offset="0.168" stop-color="#60a6cd"/><stop offset="0.202" stop-color="#bedceb"/><stop offset="0.235" stop-color="#d0e5f0"/><stop offset="0.269" stop-color="#68abd0"/><stop offset="0.303" stop-color="#3682ba"/><stop offset="0.336" stop-color="#2a71b2"/><stop offset="0.370" stop-color="#2469ae"/><stop offset="0.403" stop-color="#2065aa"/><stop offset="0.437" stop-color="#1e61a5"/><stop offset="0.471" stop-color="#1d5fa2"/><stop offset="0.504" stop-color="#1d5fa2"/><stop offset="0.538" stop-color="#1e5fa3"/><stop offset="0.571" stop-color="#1f61a6"/><stop offset="0.605" stop-color="#2165ab"/><stop offset="0.639" stop-color="#246aae"/><stop offset="0.672" stop-color="#2b73b2"/><stop offset="0.706" stop-color="#3885bc"/><stop offset="0.739" stop-color="#75b3d4"/><stop offset="0.773" stop-color="#d7e8f1"/><stop offset="0.807" stop-color="#b3d6e8"/><stop offset="0.840" stop-color="#57a0ca"/><stop offset="0.874" stop-color="#408fc1"/><stop offset="0.908" stop-color="#4291c2"/><stop offset="0.941" stop-color="#4190c1"/><stop offset="0.975" stop-color="#408fc1"/><stop offset="1.000" stop-color="#408fc1"/></linearGradient><linearGradient id="h28"><stop offset="0.000" stop-color="#408fc1"/><stop offset="0.034" stop-color="#408fc1"/><stop offset="0.067" stop-color="#4190c1"/><stop offset="0.101" stop-color="#4191c2"/><stop offset="0.134" stop-color="#4090c1"/><stop offset="0.168" stop-color="#509bc7"/><stop offset="0.202" stop-color="#add3e6"/><stop offset="0.235" stop-color="#ddebf2"/><stop offset="0.269" stop-color="#7eb8d7"/><stop offset="0.303" stop-color="#3986bc"/><stop offset="0.336" stop-color="#2a72b2"/><stop offset="0.370" stop-color="#246aae"/><stop offset="0.403" stop-color="#2064aa"/><stop offset="0.437" stop-color="#1e61a4"/><stop offset="0.471" stop-color="#1d5ea2"/><stop offset="0.504" stop-color="#1d5ea1"/><stop offset="0.538" stop-color="#1d5fa2"/><stop offset="0.571" stop-color="#1e61a5"/><stop offset="0.605" stop-color="#2065aa"/><stop offset="0.639" stop-color="#246aae"/><stop offset="0.672" stop-color="#2c74b3"/><stop offset="0.706" stop-color="#3c8abe"/><stop offset="0.739" stop-color="#8fc3dd"/><stop offset="0.773" stop-color="#dfecf3"/><stop offset="0.807" stop-color="#9fcce2"/><stop offset="0.840" stop-color="#4896c5"/><stop offset="0.874" stop-color="#4190c2"/><stop offset="0.908" stop-color="#4191c2"/><stop offset="0.941" stop-color="#4090c1"/><stop offset="0.975" stop-color="#408fc1"/><stop offset="1.000" stop-color="#408fc1"/></linearGradient><linearGradient id="h29"><stop offset="0.000" stop-color="#408fc1"/><stop offset="0.034" stop-color="#408fc1"/><stop offset="0.067" stop-color="#408fc1"/><stop offset="0.101" stop-color="#4190c2"/><stop offset="0.134" stop-color="#4191c2"/><stop offset="0.168" stop-color="#4493c3"/><stop offset="0.202" stop-color="#97c8e0"/><stop offset="0.235" stop-color="#e4eef3"/><stop offset="0.269" stop-color="#98c8e0"/><stop offset="0.303" stop-color="#3d8bbf"/><stop offset="0.336" stop-color="#2b74b3"/><stop offset="0.370" stop-color="#246aae"/><stop offset="0.403" stop-color="#2064a9"/><stop offset="0.437" stop-color="#1e60a4"/><stop offset="0.471" stop-color="#1d5ea1"/><stop offset="0.504" stop-color="#1c5da0"/><stop offset="0.538" stop-color="#1d5ea1"/><stop offset="0.571" stop-color="#1e60a4"/><stop offset="0.605" stop-color="#2065aa"/><stop offset="0.639" stop-color="#256bae"/><stop offset="0.672" stop-color="#2d76b4"/><stop offset="0.706" stop-color="#4191c2"/><stop offset="0.739" stop-color="#aad1e5"/><stop offset="0.773" stop-color="#e0ecf3"/><stop offset="0.807" stop-color="#86bdda"/><stop offset="0.840" stop-color="#4191c2"/><stop offset="0.874" stop-color="#4291c2"/><stop offset="0.908" stop-color="#4190c2"/><stop offset="0.941" stop-color="#408fc1"/><stop offset="0.975" stop-color="#408fc1"/><stop offset="1.000" stop-color="#408fc1"/></linearGradient><linearGradient id="h30"><stop offset="0.000" stop-color="#408fc1"/><stop offset="0.034" stop-color="#408fc1"/><stop offset="0.067" stop-color="#408fc1"/><stop offset="0.101" stop-color="#4190c1"/><stop offset="0.134" stop-color="#4291c2"/><stop offset="0.168" stop-color="#4190c1"/><stop offset="0.202" stop-color="#7cb7d7"/><stop offset="0.235" stop-color="#e1edf3"/><stop offset="0.269" stop-color="#b4d6e8"/><stop offset="0.303" stop-color="#4292c2"/><stop offset="0.336" stop-color="#2d75b4"/><stop offset="0.370" stop-color="#246aae"/><stop offset="0.403" stop-color="#2064a9"/><stop offset="0.437" stop-color="#1e5fa3"/><stop offset="0.471" stop-color="#1c5d9f"/><stop offset="0.504" stop-color="#1c5c9e"/><stop offset="0.538" stop-color="#1c5da0"/><stop offset="0.571" stop-color="#1e60a3"/><stop offset="0.605" stop-color="#2065aa"/><stop offset="0.639" stop-color="#256baf"/><stop offset="0.672" stop-color="#2f79b5"/><stop offset="0.706" stop-color="#4f9bc7"/><stop offset="0.739" stop-color="#cae2ee"/><stop offset="0.773" stop-color="#d7e8f1"/><stop offset="0.807" stop-color="#6aacd0"/><stop offset="0.840" stop-color="#4090c1"/><stop offset="0.874" stop-color="#4291c2"/><stop offset="0.908" stop-color="#4190c1"/><stop offset="0.941" stop-color="#408fc1"/><stop offset="0.975" stop-color="#408fc1"/><stop offset="1.000" stop-color="#408fc1"/></linearGradient><linearGradient id="h31"><stop offset="0.000" stop-color="#408fc1"/><stop offset="0.034" stop-color="#408fc1"/><stop offset="0.067" stop-color="#408fc1"/><stop offset="0.101" stop-color="#4090c1"/><stop offset="0.134" stop-color="#4191c2"/><stop offset="0.168" stop-color="#4090c1"/><stop offset="0.202" stop-color="#61a6cd"/><stop offset="0.235" stop-color="#d5e7f1"/><stop offset="0.269" stop-color="#d4e6f0"/><stop offset="0.303" stop-color="#529cc8"/><stop offset="0.336" stop-color="#2f78b5"/><stop offset="0.370" stop-color="#246aae"/><stop offset="0.403" stop-color="#2063a8"/><stop offset="0.437" stop-color="#1d5fa2"/><stop offset="0.471" stop-color="#1c5c9e"/><stop offset="0.504" stop-color="#1b5b9d"/><stop offset="0.538" stop-color="#1c5c9f"/><stop offset="0.571" stop-color="#1e5fa3"/><stop offset="0.605" stop-color="#2064aa"/><stop offset="0.639" stop-color="#266caf"/><stop offset="0.672" stop-color="#327cb7"/><stop offset="0.706" stop-color="#66a9cf"/><stop offset="0.739" stop-color="#e2edf3"/><stop offset="0.773" stop-color="#c1ddeb"/><stop offset="0.807" stop-color="#529dc8"/><stop offset="0.840" stop-color="#4190c2"/><stop offset="0.874" stop-color="#4191c2"/><stop offset="0.908" stop-color="#4090c1"/><stop offset="0.941" stop-color="#408fc1"/><stop offset="0.975" stop-color="#408fc1"/><stop offset="1.000" stop-color="#408fc1"/></linearGradient><linearGradient id="h32"><stop offset="0.000" stop-color="#408fc1"/><stop offset="0.034" stop-color="#408fc1"/><stop offset="0.067" stop-color="#408fc1"/><stop offset="0.101" stop-color="#408fc1"/><stop offset="0.134" stop-color="#4190c2"/><stop offset="0.168" stop-color="#4190c2"/><stop offset="0.202" stop-color="#4c98c6"/><stop offset="0.235" stop-color="#b9d9e9"/><stop offset="0.269" stop-color="#e9f0f4"/><stop offset="0.303" stop-color="#6bacd0"/><stop offset="0.336" stop-color="#317cb7"/><stop offset="0.370" stop-color="#256baf"/><stop offset="0.403" stop-color="#1f63a8"/><stop offset="0.437" stop-color="#1d5ea1"/><stop offset="0.471" stop-color="#1b5b9d"/><stop offset="0.504" stop-color="#1b5a9c"/><stop offset="0.538" stop-color="#1c5c9d"/><stop offset="0.571" stop-color="#1d5fa2"/><stop offset="0.605" stop-color="#2064aa"/><stop offset="0.639" stop-color="#266db0"/><stop offset="0.672" stop-color="#3681ba"/><stop offset="0.706" stop-color="#87beda"/><stop offset="0.739" stop-color="#eff3f6"/><stop offset="0.773" stop-color="#a0cce2"/><stop offset="0.807" stop-color="#4393c3"/><stop offset="0.840" stop-color="#4191c2"/><stop offset="0.874" stop-color="#4190c2"/><stop offset="0.908" stop-color="#408fc1"/><stop offset="0.941" stop-color="#408fc1"/><stop offset="0.975" stop-color="#408fc1"/><stop offset="1.000" stop-color="#408fc1"/></linearGradient><linearGradient id="h33"><stop offset="0.000" stop-color="#408fc1"/><stop offset="0.034" stop-color="#408fc1"/><stop offset="0.067" stop-color="#408fc1"/><stop offset="0.101" stop-color="#408fc1"/><stop offset="0.134" stop-color="#4190c1"/><stop offset="0.168" stop-color="#4191c2"/><stop offset="0.202" stop-color="#4291c2"/><stop offset="0.235" stop-color="#95c6df"/><stop offset="0.269" stop-color="#f2f5f6"/><stop offset="0.303" stop-color="#8fc2dd"/><stop offset="0.336" stop-color="#3581ba"/><stop offset="0.370" stop-color="#266caf"/><stop offset="0.403" stop-color="#1f63a8"/><stop offset="0.437" stop-color="#1c5da0"/><stop offset="0.471" stop-color="#1b5a9c"/><stop offset="0.504" stop-color="#1a599a"/><stop offset="0.538" stop-color="#1b5b9c"/><stop offset="0.571" stop-color="#1d5ea1"/><stop offset="0.605" stop-color="#2064aa"/><stop offset="0.639" stop-color="#286fb1"/><stop offset="0.672" stop-color="#3b89be"/><stop offset="0.706" stop-color="#afd3e6"/><stop offset="0.739" stop-color="#ebf1f5"/><stop offset="0.773" stop-color="#7ab6d6"/><stop offset="0.807" stop-color="#408fc1"/><stop offset="0.840" stop-color="#4191c2"/><stop offset="0.874" stop-color="#4090c1"/><stop offset="0.908" stop-color="#408fc1"/><stop offset="0.941" stop-color="#408fc1"/><stop offset="0.975" stop-color="#408fc1"/><stop offset="1.000" stop-color="#408fc1"/></linearGradient><linearGradient id="h34"><stop offset="0.000" stop-color="#408fc1"/><stop offset="0.034" stop-color="#408fc1"/><stop offset="0.067" stop-color="#408fc1"/><stop offset="0.101" stop-color="#408fc1"/><stop offset="0.134" stop-color="#408fc1"/><stop offset="0.168" stop-color="#4191c2"/><stop offset="0.202" stop-color="#408fc1"/><stop offset="0.235" stop-color="#6bacd1"/><stop offset="0.269" stop-color="#e9f0f5"/><stop offset="0.303" stop-color="#b9d9e9"/><stop offset="0.336" stop-color="#3b89be"/><stop offset="0.370" stop-color="#276db0"/><stop offset="0.403" stop-color="#1f63a7"/><stop offset="0.437" stop-color="#1c5c9e"/><stop offset="0.471" stop-color="#1a599a"/><stop offset="0.504" stop-color="#1a5899"/><stop offset="0.538" stop-color="#1b599b"/><stop offset="0.571" stop-color="#1c5da0"/><stop offset="0.605" stop-color="#2065aa"/><stop offset="0.639" stop-color="#2971b2"/><stop offset="0.672" stop-color="#4795c4"/><stop offset="0.706" stop-color="#d9e9f2"/><stop offset="0.739" stop-color="#d4e6f0"/><stop offset="0.773" stop-color="#559ec9"/><stop offset="0.807" stop-color="#4190c1"/><stop offset="0.840" stop-color="#4190c2"/><stop offset="0.874" stop-color="#408fc1"/><stop offset="0.908" stop-color="#408fc1"/><stop offset="0.941" stop-color="#408fc1"/><stop offset="0.975" stop-color="#408fc1"/><stop offset="1.000" stop-color="#408fc1"/></linearGradient><linearGradient id="h35"><stop offset="0.000" stop-color="#408fc1"/><stop offset="0.034" stop-color="#408fc1"/><stop offset="0.067" stop-color="#408fc1"/><stop offset="0.101" stop-color="#408fc1"/><stop offset="0.134" stop-color="#408fc1"/><stop offset="0.168" stop-color="#4190c1"/><stop offset="0.202" stop-color="#4190c1"/><stop offset="0.235" stop-color="#4996c5"/><stop offset="0.269" stop-color="#c4deec"/><stop offset="0.303" stop-color="#e5eff3"/><stop offset="0.336" stop-color="#4694c4"/><stop offset="0.370" stop-color="#286fb1"/><stop offset="0.403" stop-color="#1f62a7"/><stop offset="0.437" stop-color="#1b5b9d"/><stop offset="0.471" stop-color="#1a5898"/><stop offset="0.504" stop-color="#195797"/><stop offset="0.538" stop-color="#1a5899"/><stop offset="0.571" stop-color="#1c5c9f"/><stop offset="0.605" stop-color="#2065aa"/><stop offset="0.639" stop-color="#2c74b3"/><stop offset="0.672" stop-color="#63a7ce"/><stop offset="0.706" stop-color="#f8ece4"/><stop offset="0.739" stop-color="#a2cde2"/><stop offset="0.773" stop-color="#4290c2"/><stop offset="0.807" stop-color="#4190c2"/><stop offset="0.840" stop-color="#4090c1"/><stop offset="0.874" stop-color="#408fc1"/><stop offset="0.908" stop-color="#408fc1"/><stop offset="0.941" stop-color="#408fc1"/><stop offset="0.975" stop-color="#408fc1"/><stop offset="1.000" stop-color="#408fc1"/></linearGradient><linearGradient id="h36"><stop offset="0.000" stop-color="#408fc1"/><stop offset="0.034" stop-color="#408fc1"/><stop offset="0.067" stop-color="#408fc1"/><stop offset="0.101" stop-color="#408fc1"/><stop offset="0.134" stop-color="#408fc1"/><stop offset="0.168" stop-color="#408fc1"/><stop offset="0.202" stop-color="#4190c2"/><stop offset="0.235" stop-color="#3f8ec0"/><stop offset="0.269" stop-color="#86bdda"/><stop offset="0.303" stop-color="#fcdecd"/><stop offset="0.336" stop-color="#64a8ce"/><stop offset="0.370" stop-color="#2a72b2"/><stop offset="0.403" stop-color="#1f62a6"/><stop offset="0.437" stop-color="#1b5a9b"/><stop offset="0.471" stop-color="#195695"/><stop offset="0.504" stop-color="#185594"/><stop offset="0.538" stop-color="#195696"/><stop offset="0.571" stop-color="#1b5b9d"/><stop offset="0.605" stop-color="#2065aa"/><stop offset="0.639" stop-color="#2f78b5"/><stop offset="0.672" stop-color="#91c4de"/><stop offset="0.706" stop-color="#f3ece8"/><stop offset="0.739" stop-color="#64a8ce"/><stop offset="0.773" stop-color="#3f8ec0"/><stop offset="0.807" stop-color="#4190c1"/><stop offset="0.840" stop-color="#408fc1"/><stop offset="0.874" stop-color="#408fc1"/><stop offset="0.908" stop-color="#408fc1"/><stop offset="0.941" stop-color="#408fc1"/><stop offset="0.975" stop-color="#408fc1"/><stop offset="1.000" stop-color="#408fc1"/></linearGradient><linearGradient id="h37"><stop offset="0.000" stop-color="#408fc1"/><stop offset="0.034" stop-color="#408fc1"/><stop offset="0.067" stop-color="#408fc1"/><stop offset="0.101" stop-color="#408fc1"/><stop offset="0.134" stop-color="#408fc1"/><stop offset="0.168" stop-color="#408fc1"/><stop offset="0.202" stop-color="#408fc1"/><stop offset="0.235" stop-color="#408fc1"/><stop offset="0.269" stop-color="#4d99c6"/><stop offset="0.303" stop-color="#e5ecf0"/><stop offset="0.336" stop-color="#96c6df"/><stop offset="0.370" stop-color="#2c75b4"/><stop offset="0.403" stop-color="#1e61a5"/><stop offset="0.437" stop-color="#1a5898"/><stop offset="0.471" stop-color="#175391"/><stop offset="0.504" stop-color="#165290"/><stop offset="0.538" stop-color="#185493"/><stop offset="0.571" stop-color="#1a599b"/><stop offset="0.605" stop-color="#2064aa"/><stop offset="0.639" stop-color="#347fb9"/><stop offset="0.672" stop-color="#cee4ef"/><stop offset="0.706" stop-color="#bbdaea"/><stop offset="0.739" stop-color="#4190c2"/><stop offset="0.773" stop-color="#4090c1"/><stop offset="0.807" stop-color="#408fc1"/><stop offset="0.840" stop-color="#408fc1"/><stop offset="0.874" stop-color="#408fc1"/><stop offset="0.908" stop-color="#408fc1"/><stop offset="0.941" stop-color="#408fc1"/><stop offset="0.975" stop-color="#408fc1"/><stop offset="1.000" stop-color="#408fc1"/></linearGradient><linearGradient id="h38"><stop offset="0.000" stop-color="#408fc1"/><stop offset="0.034" stop-color="#408fc1"/><stop offset="0.067" stop-color="#408fc1"/><stop offset="0.101" stop-color="#408fc1"/><stop offset="0.134" stop-color="#408fc1"/><stop offset="0.168" stop-color="#408fc1"/><stop offset="0.202" stop-color="#408fc1"/><stop offset="0.235" stop-color="#4090c1"/><stop offset="0.269" stop-color="#3d8cbf"/><stop offset="0.303" stop-color="#9ccae1"/><stop offset="0.336" stop-color="#e0e3e4"/><stop offset="0.370" stop-color="#327cb7"/><stop offset="0.403" stop-color="#1e60a4"/><stop offset="0.437" stop-color="#185494"/><stop offset="0.471" stop-color="#154e8b"/><stop offset="0.504" stop-color="#144d89"/><stop offset="0.538" stop-color="#154f8d"/><stop offset="0.571" stop-color="#195797"/><stop offset="0.605" stop-color="#2065aa"/><stop offset="0.639" stop-color="#418ec0"/><stop offset="0.672" stop-color="#f6bba0"/><stop offset="0.706" stop-color="#6fafd2"/><stop offset="0.739" stop-color="#3e8cc0"/><stop offset="0.773" stop-color="#408fc1"/><stop offset="0.807" stop-color="#408fc1"/><stop offset="0.840" stop-color="#408fc1"/><stop offset="0.874" stop-color="#408fc1"/><stop offset="0.908" stop-color="#408fc1"/><stop offset="0.941" stop-color="#408fc1"/><stop offset="0.975" stop-color="#408fc1"/><stop offset="1.000" stop-color="#408fc1"/></linearGradient><linearGradient id="h39"><stop offset="0.000" stop-color="#408fc1"/><stop offset="0.034" stop-color="#408fc1"/><stop offset="0.067" stop-color="#408fc1"/><stop offset="0.101" stop-color="#408fc1"/><stop offset="0.134" stop-color="#408fc1"/><stop offset="0.168" stop-color="#408fc1"/><stop offset="0.202" stop-color="#408fc1"/><stop offset="0.235" stop-color="#408fc1"/><stop offset="0.269" stop-color="#3e8cbf"/><stop offset="0.303" stop-color="#5da4cc"/><stop offset="0.336" stop-color="#eeb09d"/><stop offset="0.370" stop-color="#5aa0ca"/><stop offset="0.403" stop-color="#1f63a8"/><stop offset="0.437" stop-color="#16508e"/><stop offset="0.471" stop-color="#114781"/><stop offset="0.504" stop-color="#10457e"/><stop offset="0.538" stop-color="#124984"/><stop offset="0.571" stop-color="#175493"/><stop offset="0.605" stop-color="#256caf"/><stop offset="0.639" stop-color="#95c5de"/><stop offset="0.672" stop-color="#dde5ea"/><stop offset="0.706" stop-color="#4694c4"/><stop offset="0.739" stop-color="#3f8ec0"/><stop offset="0.773" stop-color="#408fc1"/><stop offset="0.807" stop-color="#408fc1"/><stop offset="0.840" stop-color="#408fc1"/><stop offset="0.874" stop-color="#408fc1"/><stop offset="0.908" stop-color="#408fc1"/><stop offset="0.941" stop-color="#408fc1"/><stop offset="0.975" stop-color="#408fc1"/><stop offset="1.000" stop-color="#408fc1"/></linearGradient><linearGradient id="h40"><stop offset="0.000" stop-color="#408fc1"/><stop offset="0.034" stop-color="#408fc1"/><stop offset="0.067" stop-color="#408fc1"/><stop offset="0.101" stop-color="#408fc1"/><stop offset="0.134" stop-color="#408fc1"/><stop offset="0.168" stop-color="#408fc1"/><stop offset="0.202" stop-color="#408fc1"/><stop offset="0.235" stop-color="#408fc1"/><stop offset="0.269" stop-color="#3f8ec0"/><stop offset="0.303" stop-color="#3f8dc0"/><stop offset="0.336" stop-color="#a6cee3"/><stop offset="0.370" stop-color="#d0aeb3"/><stop offset="0.403" stop-color="#2a73b2"/><stop offset="0.437" stop-color="#144c88"/><stop offset="0.471" stop-color="#0c3e75"/><stop offset="0.504" stop-color="#0a3b70"/><stop offset="0.538" stop-color="#0e4178"/><stop offset="0.571" stop-color="#175291"/><stop offset="0.605" stop-color="#3b88be"/><stop offset="0.639" stop-color="#e39085"/><stop offset="0.672" stop-color="#7ab5d6"/><stop offset="0.706" stop-color="#3d8bbf"/><stop offset="0.739" stop-color="#408fc1"/><stop offset="0.773" stop-color="#408fc1"/><stop offset="0.807" stop-color="#408fc1"/><stop offset="0.840" stop-color="#408fc1"/><stop offset="0.874" stop-color="#408fc1"/><stop offset="0.908" stop-color="#408fc1"/><stop offset="0.941" stop-color="#408fc1"/><stop offset="0.975" stop-color="#408fc1"/><stop offset="1.000" stop-color="#408fc1"/></linearGradient><linearGradient id="h41"><stop offset="0.000" stop-color="#408fc1"/><stop offset="0.034" stop-color="#408fc1"/><stop offset="0.067" stop-color="#408fc1"/><stop offset="0.101" stop-color="#408fc1"/><stop offset="0.134" stop-color="#408fc1"/><stop offset="0.168" stop-color="#408fc1"/><stop offset="0.202" stop-color="#408fc1"/><stop offset="0.235" stop-color="#408fc1"/><stop offset="0.269" stop-color="#408fc1"/><stop offset="0.303" stop-color="#3d8bbf"/><stop offset="0.336" stop-color="#4895c4"/><stop offset="0.370" stop-color="#d3bdbc"/><stop offset="0.403" stop-color="#66a6ce"/><stop offset="0.437" stop-color="#124985"/><stop offset="0.471" stop-color="#073365"/><stop offset="0.504" stop-color="#053162"/><stop offset="0.538" stop-color="#09376b"/><stop offset="0.571" stop-color="#195696"/><stop offset="0.605" stop-color="#b8bdc2"/><stop offset="0.639" stop-color="#add2e5"/><stop offset="0.672" stop-color="#3e8cc0"/><stop offset="0.706" stop-color="#3f8dc0"/><stop offset="0.739" stop-color="#408fc1"/><stop offset="0.773" stop-color="#408fc1"/><stop offset="0.807" stop-color="#408fc1"/><stop offset="0.840" stop-color="#408fc1"/><stop offset="0.874" stop-color="#408fc1"/><stop offset="0.908" stop-color="#408fc1"/><stop offset="0.941" stop-color="#408fc1"/><stop offset="0.975" stop-color="#408fc1"/><stop offset="1.000" stop-color="#408fc1"/></linearGradient><linearGradient id="h42"><stop offset="0.000" stop-color="#408fc1"/><stop offset="0.034" stop-color="#408fc1"/><stop offset="0.067" stop-color="#408fc1"/><stop offset="0.101" stop-color="#408fc1"/><stop offset="0.134" stop-color="#408fc1"/><stop offset="0.168" stop-color="#408fc1"/><stop offset="0.202" stop-color="#408fc1"/><stop offset="0.235" stop-color="#408fc1"/><stop offset="0.269" stop-color="#408fc1"/><stop offset="0.303" stop-color="#408ec1"/><stop offset="0.336" stop-color="#3b88bd"/><stop offset="0.370" stop-color="#63a7ce"/><stop offset="0.403" stop-color="#e19d99"/><stop offset="0.437" stop-color="#2162a0"/><stop offset="0.471" stop-color="#053061"/><stop offset="0.504" stop-color="#053061"/><stop offset="0.538" stop-color="#063264"/><stop offset="0.571" stop-color="#5090c2"/><stop offset="0.605" stop-color="#cea6ae"/><stop offset="0.639" stop-color="#4895c4"/><stop offset="0.672" stop-color="#3c8abe"/><stop offset="0.706" stop-color="#408fc1"/><stop offset="0.739" stop-color="#408fc1"/><stop offset="0.773" stop-color="#408fc1"/><stop offset="0.807" stop-color="#408fc1"/><stop offset="0.840" stop-color="#408fc1"/><stop offset="0.874" stop-color="#408fc1"/><stop offset="0.908" stop-color="#408fc1"/><stop offset="0.941" stop-color="#408fc1"/><stop offset="0.975" stop-color="#408fc1"/><stop offset="1.000" stop-color="#408fc1"/></linearGradient><linearGradient id="h43"><stop offset="0.000" stop-color="#408fc1"/><stop offset="0.034" stop-color="#408fc1"/><stop offset="0.067" stop-color="#408fc1"/><stop offset="0.101" stop-color="#408fc1"/><stop offset="0.134" stop-color="#408fc1"/><stop offset="0.168" stop-color="#408fc1"/><stop offset="0.202" stop-color="#408fc1"/><stop offset="0.235" stop-color="#408fc1"/><stop offset="0.269" stop-color="#408fc1"/><stop offset="0.303" stop-color="#408fc1"/><stop offset="0.336" stop-color="#3e8cbf"/><stop offset="0.370" stop-color="#3b88be"/><stop offset="0.403" stop-color="#7db6d6"/><stop offset="0.437" stop-color="#decdc6"/><stop offset="0.471" stop-color="#10457e"/><stop offset="0.504" stop-color="#053061"/><stop offset="0.538" stop-color="#2d6ca2"/><stop offset="0.571" stop-color="#e3beb0"/><stop offset="0.605" stop-color="#5ca1cb"/><stop offset="0.639" stop-color="#3a88bd"/><stop offset="0.672" stop-color="#3e8dc0"/><stop offset="0.706" stop-color="#408fc1"/><stop offset="0.739" stop-color="#408fc1"/><stop offset="0.773" stop-color="#408fc1"/><stop offset="0.807" stop-color="#408fc1"/><stop offset="0.840" stop-color="#408fc1"/><stop offset="0.874" stop-color="#408fc1"/><stop offset="0.908" stop-color="#408fc1"/><stop offset="0.941" stop-color="#408fc1"/><stop offset="0.975" stop-color="#408fc1"/><stop offset="1.000" stop-color="#408fc1"/></linearGradient><linearGradient id="h44"><stop offset="0.000" stop-color="#408fc1"/><stop offset="0.034" stop-color="#408fc1"/><stop offset="0.067" stop-color="#408fc1"/><stop offset="0.101" stop-color="#408fc1"/><stop offset="0.134" stop-color="#408fc1"/><stop offset="0.168" stop-color="#408fc1"/><stop offset="0.202" stop-color="#408fc1"/><stop offset="0.235" stop-color="#408fc1"/><stop offset="0.269" stop-color="#408fc1"/><stop offset="0.303" stop-color="#408fc1"/><stop offset="0.336" stop-color="#3f8dc0"/><stop offset="0.370" stop-color="#3a87bd"/><stop offset="0.403" stop-color="#3b88bd"/><stop offset="0.437" stop-color="#80b9d8"/><stop offset="0.471" stop-color="#c3ddea"/><stop offset="0.504" stop-color="#5582ac"/><stop offset="0.538" stop-color="#d5e6f0"/><stop offset="0.571" stop-color="#5fa4cc"/><stop offset="0.605" stop-color="#3986bc"/><stop offset="0.639" stop-color="#3c89be"/><stop offset="0.672" stop-color="#408ec1"/><stop offset="0.706" stop-color="#408fc1"/><stop offset="0.739" stop-color="#408fc1"/><stop offset="0.773" stop-color="#408fc1"/><stop offset="0.807" stop-color="#408fc1"/><stop offset="0.840" stop-color="#408fc1"/><stop offset="0.874" stop-color="#408fc1"/><stop offset="0.908" stop-color="#408fc1"/><stop offset="0.941" stop-color="#408fc1"/><stop offset="0.975" stop-color="#408fc1"/><stop offset="1.000" stop-color="#408fc1"/></linearGradient></defs><rect x="42" y="226" width="239" height="4" fill="url(#h0)"/><rect x="42" y="229" width="239" height="4" fill="url(#h1)"/><rect x="42" y="232" width="239" height="4" fill="url(#h2)"/><rect x="42" y="235" width="239" height="4" fill="url(#h3)"/><rect x="42" y="238" width="239" height="4" fill="url(#h4)"/><rect x="42" y="241" width="239" height="4" fill="url(#h5)"/><rect x="42" y="244" width="239" height="4" fill="url(#h6)"/><rect x="42" y="247" width="239" height="4" fill="url(#h7)"/><rect x="42" y="250" width="239" height="4" fill="url(#h8)"/><rect x="42" y="253" width="239" height="4" fill="url(#h9)"/><rect x="42" y="256" width="239" height="4" fill="url(#h10)"/><rect x="42" y="259" width="239" height="4" fill="url(#h11)"/><rect x="42" y="262" width="239" height="4" fill="url(#h12)"/><rect x="42" y="265" width="239" height="4" fill="url(#h13)"/><rect x="42" y="268" width="239" height="4" fill="url(#h14)"/><rect x="42" y="271" width="239" height="4" fill="url(#h15)"/><rect x="42" y="274" width="239" height="4" fill="url(#h16)"/><rect x="42" y="277" width="239" height="4" fill="url(#h17)"/><rect x="42" y="280" width="239" height="4" fill="url(#h18)"/><rect x="42" y="283" width="239" height="4" fill="url(#h19)"/><rect x="42" y="286" width="239" height="4" fill="url(#h20)"/><rect x="42" y="289" width="239" height="4" fill="url(#h21)"/><rect x="42" y="292" width="239" height="4" fill="url(#h22)"/><rect x="42" y="295" width="239" height="4" fill="url(#h23)"/><rect x="42" y="298" width="239" height="4" fill="url(#h24)"/><rect x="42" y="301" width="239" height="4" fill="url(#h25)"/><rect x="42" y="304" width="239" height="4" fill="url(#h26)"/><rect x="42" y="307" width="239" height="4" fill="url(#h27)"/><rect x="42" y="310" width="239" height="4" fill="url(#h28)"/><rect x="42" y="313" width="239" height="4" fill="url(#h29)"/><rect x="42" y="316" width="239" height="4" fill="url(#h30)"/><rect x="42" y="319" width="239" height="4" fill="url(#h31)"/><rect x="42" y="322" width="239" height="4" fill="url(#h32)"/><rect x="42" y="325" width="239" height="4" fill="url(#h33)"/><rect x="42" y="328" width="239" height="4" fill="url(#h34)"/><rect x="42" y="331" width="239" height="4" fill="url(#h35)"/><rect x="42" y="334" width="239" height="4" fill="url(#h36)"/><rect x="42" y="337" width="239" height="4" fill="url(#h37)"/><rect x="42" y="340" width="239" height="4" fill="url(#h38)"/><rect x="42" y="343" width="239" height="4" fill="url(#h39)"/><rect x="42" y="346" width="239" height="4" fill="url(#h40)"/><rect x="42" y="349" width="239" height="4" fill="url(#h41)"/><rect x="42" y="352" width="239" height="4" fill="url(#h42)"/><rect x="42" y="355" width="239" height="4" fill="url(#h43)"/><rect x="42" y="358" width="239" height="3" fill="url(#h44)"/></svg><canvas id="hm" width="239" height="135"></canvas>
<svg width="685" height="408" viewBox="0 0 685 408"><g fill="none" stroke-linejoin="round"><path d="M41.6,19.3V179.3H248.2" stroke="#777" stroke-width="1"/><path d="M39.6,159.50H41.6M39.6,128.70H41.6M39.6,97.90H41.6M39.6,67.10H41.6M39.6,36.30H41.6M51.20,179.3V181.2M88.84,179.3V181.2M126.48,179.3V181.2M164.12,179.3V181.2M201.76,179.3V181.2M239.40,179.3V181.2" stroke="#777" stroke-width="0.9"/><path d="M51.20,149.00C52.33,149.00 55.75,148.98 58.00,149.00C60.25,149.02 62.87,148.97 64.70,149.10C66.53,149.23 67.57,149.58 69.00,149.80C70.43,150.02 71.97,150.37 73.30,150.40C74.63,150.43 75.88,150.22 77.00,150.00C78.12,149.78 78.68,149.83 80.00,149.10C81.32,148.37 83.65,146.73 84.90,145.60C86.15,144.47 86.68,143.62 87.50,142.30C88.32,140.98 89.13,139.25 89.80,137.70C90.47,136.15 91.02,134.95 91.50,133.00C91.98,131.05 92.32,128.50 92.70,126.00C93.08,123.50 93.47,120.62 93.80,118.00C94.13,115.38 94.38,114.20 94.70,110.30C95.02,106.40 95.42,99.32 95.70,94.60C95.98,89.88 96.22,86.10 96.40,82.00C96.58,77.90 96.67,74.20 96.80,70.00C96.93,65.80 97.07,61.47 97.20,56.80C97.33,52.13 97.45,46.05 97.60,42.00C97.75,37.95 97.82,35.00 98.10,32.50C98.38,30.00 98.88,27.00 99.30,27.00C99.72,27.00 100.22,30.00 100.60,32.50C100.98,35.00 101.27,37.95 101.60,42.00C101.93,46.05 102.30,52.13 102.60,56.80C102.90,61.47 103.18,66.13 103.40,70.00C103.62,73.87 103.72,75.90 103.90,80.00C104.08,84.10 104.23,89.55 104.50,94.60C104.77,99.65 105.18,106.23 105.50,110.30C105.82,114.37 106.07,116.38 106.40,119.00C106.73,121.62 107.10,123.75 107.50,126.00C107.90,128.25 108.32,130.55 108.80,132.50C109.28,134.45 109.77,136.02 110.40,137.70C111.03,139.38 111.78,141.12 112.60,142.60C113.42,144.08 114.07,145.08 115.30,146.60C116.53,148.12 118.38,150.30 120.00,151.70C121.62,153.10 123.20,153.97 125.00,155.00C126.80,156.03 128.30,157.07 130.80,157.90C133.30,158.73 137.63,159.55 140.00,160.00C142.37,160.45 143.33,160.43 145.00,160.60C146.67,160.77 146.82,160.82 150.00,161.00C153.18,161.18 157.73,161.45 164.10,161.70C170.47,161.95 179.88,162.32 188.20,162.50C196.52,162.68 205.43,162.72 214.00,162.80C222.57,162.88 235.33,162.97 239.60,163.00" stroke="#000" stroke-width="2"/><path d="M51.20,169.60C53.00,169.62 58.32,169.63 62.00,169.70C65.68,169.77 70.42,170.05 73.30,170.00C76.18,169.95 77.35,169.80 79.30,169.40C81.25,169.00 83.00,168.33 85.00,167.60C87.00,166.87 89.38,165.85 91.30,165.00C93.22,164.15 94.78,163.43 96.50,162.50C98.22,161.57 100.02,160.52 101.60,159.40C103.18,158.28 104.77,156.90 106.00,155.80C107.23,154.70 108.17,153.57 109.00,152.80C109.83,152.03 110.25,151.28 111.00,151.20C111.75,151.12 112.50,151.73 113.50,152.30C114.50,152.87 115.58,153.65 117.00,154.60C118.42,155.55 120.28,156.93 122.00,158.00C123.72,159.07 125.30,160.03 127.30,161.00C129.30,161.97 131.88,163.00 134.00,163.80C136.12,164.60 137.67,165.13 140.00,165.80C142.33,166.47 145.33,167.23 148.00,167.80C150.67,168.37 152.67,168.77 156.00,169.20C159.33,169.63 163.98,170.10 168.00,170.40C172.02,170.70 174.07,170.78 180.10,171.00C186.13,171.22 194.42,171.52 204.20,171.70C213.98,171.88 233.03,172.03 238.80,172.10" stroke="#000" stroke-width="2" stroke-dasharray="7.6,2.4,1.4,2.4"/><rect x="137.6" y="24.8" width="104.7" height="35.2" rx="2" fill="#fff" fill-opacity="0.8" stroke="#ccc" stroke-width="0.9"/><path d="M141.4,33H164.5" stroke="#000" stroke-width="2"/><path d="M141.4,49.5H164.5" stroke="#000" stroke-width="2" stroke-dasharray="7.6,2.4,1.4,2.4"/></g><defs><clipPath id="cb"><rect x="357.8" y="23.6" width="279.1" height="216.1"/></clipPath></defs><g fill="none" clip-path="url(#cb)" stroke-linejoin="round"><path d="M378.97,226.58L379.14,234.35L379.32,241.81L379.50,248.94L379.67,255.78L379.85,262.32L380.03,268.59L380.20,274.59L380.38,280.33L380.56,285.82L380.74,291.07L380.91,296.09L381.09,300.00L381.27,300.00L381.44,300.00L381.62,300.00L381.80,300.00L381.98,300.00L382.15,300.00L382.33,300.00L382.51,300.00L382.68,300.00L382.86,300.00L383.04,300.00L383.22,300.00L383.39,300.00L383.57,300.00L383.75,300.00L383.92,300.00L384.10,300.00L384.28,300.00L384.46,300.00L384.63,300.00L384.81,300.00L384.99,300.00L385.16,300.00L385.34,300.00L385.52,300.00L385.69,300.00L385.87,300.00L386.05,300.00L386.23,300.00L386.40,300.00L386.58,300.00L386.76,300.00L386.93,300.00L387.11,300.00L387.29,300.00L387.47,300.00L387.64,300.00L387.82,300.00L388.00,300.00L388.17,300.00L388.35,300.00L388.53,300.00L388.71,300.00L388.88,300.00L389.06,300.00L389.24,300.00L389.41,300.00L389.59,300.00L389.77,300.00L389.95,300.00L390.12,300.00L390.30,300.00L390.48,300.00L390.65,300.00L390.83,300.00L391.01,300.00L391.18,300.00L391.36,300.00L391.54,300.00L391.72,300.00L391.89,300.00L392.07,300.00L392.25,300.00L392.42,300.00L392.60,300.00L392.78,300.00L392.96,300.00L393.13,300.00L393.31,300.00L393.49,300.00L393.66,300.00L393.84,300.00L394.02,300.00L394.20,300.00L394.37,300.00L394.55,300.00L394.73,300.00L394.90,300.00L395.08,300.00L395.26,300.00L395.44,300.00L395.61,300.00L395.79,300.00L395.97,300.00L396.14,300.00L396.32,300.00L396.50,300.00L396.68,300.00L396.85,300.00L397.03,300.00L397.21,300.00L397.38,300.00L397.56,300.00L397.74,300.00L397.91,300.00L398.09,300.00L398.27,300.00L398.45,300.00L398.62,300.00L398.80,300.00L398.98,300.00L399.15,300.00L399.33,300.00L399.51,300.00L399.69,300.00L399.86,300.00L400.04,300.00L401.27,300.00L402.50,300.00L403.73,300.00L404.95,300.00L406.18,300.00L407.41,300.00L408.64,300.00L409.87,297.39L411.10,292.39L412.32,287.57L413.55,282.92L414.78,278.46L416.01,274.19L417.24,270.09L418.47,266.16L419.70,262.41L420.92,258.83L422.15,255.42L423.38,252.16L424.61,249.06L425.84,246.11L427.07,243.30L428.30,240.63L429.52,238.10L430.75,235.70L431.98,233.42L433.21,231.26L434.44,229.22L435.67,227.28L436.89,225.45L438.12,223.73L439.35,222.10L440.58,220.56L441.81,219.12L443.04,217.75L444.27,216.47L445.49,215.27L446.72,214.15L447.95,213.09L449.18,212.11L450.41,211.19L451.64,210.33L452.87,209.54L454.09,208.80L455.32,208.11L456.55,207.48L457.78,206.90L459.01,206.37L460.24,205.88L461.46,205.44L462.69,205.04L463.92,204.68L465.15,204.36L466.38,204.08L467.61,203.83L468.84,203.61L470.06,203.43L471.29,203.28L472.52,203.16L473.75,203.06L474.98,203.00L476.21,202.96L477.44,202.94L478.66,202.95L479.89,202.98L481.12,203.03L482.35,203.10L483.58,203.19L484.81,203.30L486.03,203.43L487.26,203.57L488.49,203.73L489.72,203.91L490.95,204.10L492.18,204.31L493.41,204.53L494.63,204.76L495.86,205.01L497.09,205.27L498.32,205.53L499.55,205.81L500.78,206.10L502.00,206.40L503.23,206.71L504.46,207.03L505.69,207.35L506.92,207.69L508.15,208.03L509.38,208.38L510.60,208.73L511.83,209.09L513.06,209.46L514.29,209.84L515.52,210.22L516.75,210.60L517.98,210.99L519.20,211.38L520.43,211.78L521.66,212.19L522.89,212.59L524.12,213.00L525.35,213.42L526.57,213.84L527.80,214.26L529.03,214.68L530.26,215.11L531.49,215.54L532.72,215.97L533.95,216.40L535.17,216.84L536.40,217.27L537.63,217.71L538.86,218.15L540.09,218.60L541.32,219.04L542.55,219.48L543.77,219.93L545.00,220.38L546.23,220.82L547.46,221.27L548.69,221.72L549.92,222.17L551.14,222.62L552.37,223.07L553.60,223.52L554.83,223.97L556.06,224.42L557.29,224.87L558.52,225.32L559.74,225.77L560.97,226.22L562.20,226.67L563.43,227.12L564.66,227.57L565.89,228.02L567.11,228.47L568.34,228.92L569.57,229.37L570.80,229.81L572.03,230.26L573.26,230.70L574.49,231.15L575.71,231.59L576.94,232.03L578.17,232.48L579.40,232.92L580.63,233.36L581.86,233.80L583.09,234.23L584.31,234.67L585.54,235.11L586.77,235.54L588.00,235.98L589.23,236.41L590.46,236.84L591.68,237.27L592.91,237.70L594.14,238.13L595.37,238.55L596.60,238.98L597.83,239.40L599.06,239.82L600.28,240.24L601.51,240.66L602.74,241.08L603.97,241.50L605.20,241.92L606.43,242.33L607.66,242.74L608.88,243.15L610.11,243.56L611.34,243.97L612.57,244.38L613.80,244.79L615.03,245.19L616.25,245.59L617.48,245.99L618.71,246.39L619.94,246.79L621.17,247.19L622.40,247.58L623.63,247.98L624.85,248.37L626.08,248.76L627.31,249.15L628.54,249.54L629.77,249.93L631.00,250.31L632.23,250.69L633.45,251.08L634.68,251.46L635.91,251.84L637.14,252.21L638.37,252.59L639.60,252.96L640.82,253.34L642.05,253.71L643.28,254.08L644.51,254.45" stroke="#cfcfcf" stroke-width="1.5"/><path d="M378.97,36.11L379.14,45.72L379.32,54.97L379.50,63.86L379.67,72.43L379.85,80.67L380.03,88.60L380.20,96.23L380.38,103.57L380.56,110.64L380.74,117.44L380.91,123.99L381.09,130.28L381.27,136.34L381.44,142.16L381.62,147.77L381.80,153.16L381.98,158.34L382.15,163.33L382.33,168.12L382.51,172.73L382.68,177.16L382.86,181.42L383.04,185.51L383.22,189.44L383.39,193.22L383.57,196.84L383.75,200.32L383.92,203.67L384.10,206.87L384.28,209.95L384.46,212.90L384.63,215.73L384.81,218.45L384.99,221.05L385.16,223.54L385.34,225.92L385.52,228.20L385.69,230.39L385.87,232.48L386.05,234.48L386.23,236.38L386.40,238.21L386.58,239.94L386.76,241.60L386.93,243.18L387.11,244.69L387.29,246.12L387.47,247.49L387.64,248.78L387.82,250.01L388.00,251.18L388.17,252.28L388.35,253.33L388.53,254.32L388.71,255.25L388.88,256.13L389.06,256.96L389.24,257.73L389.41,258.46L389.59,259.15L389.77,259.78L389.95,260.38L390.12,260.93L390.30,261.44L390.48,261.91L390.65,262.35L390.83,262.74L391.01,263.10L391.18,263.43L391.36,263.72L391.54,263.98L391.72,264.21L391.89,264.41L392.07,264.59L392.25,264.73L392.42,264.84L392.60,264.94L392.78,265.00L392.96,265.04L393.13,265.06L393.31,265.05L393.49,265.02L393.66,264.98L393.84,264.91L394.02,264.82L394.20,264.71L394.37,264.59L394.55,264.44L394.73,264.28L394.90,264.11L395.08,263.91L395.26,263.71L395.44,263.48L395.61,263.25L395.79,263.00L395.97,262.74L396.14,262.46L396.32,262.17L396.50,261.87L396.68,261.56L396.85,261.24L397.03,260.91L397.21,260.57L397.38,260.22L397.56,259.86L397.74,259.49L397.91,259.12L398.09,258.73L398.27,258.34L398.45,257.94L398.62,257.53L398.80,257.12L398.98,256.70L399.15,256.28L399.33,255.84L399.51,255.41L399.69,254.97L399.86,254.52L400.04,254.07L401.27,250.82L402.50,247.43L403.73,243.96L404.95,240.44L406.18,236.93L407.41,233.44L408.64,230.00L409.87,226.64L411.10,223.36L412.32,220.18L413.55,217.11L414.78,214.14L416.01,211.29L417.24,208.56L418.47,205.94L419.70,203.45L420.92,201.07L422.15,198.81L423.38,196.66L424.61,194.63L425.84,192.70L427.07,190.88L428.30,189.17L429.52,187.56L430.75,186.04L431.98,184.62L433.21,183.28L434.44,182.04L435.67,180.88L436.89,179.80L438.12,178.80L439.35,177.87L440.58,177.01L441.81,176.23L443.04,175.50L444.27,174.85L445.49,174.25L446.72,173.71L447.95,173.22L449.18,172.79L450.41,172.41L451.64,172.08L452.87,171.79L454.09,171.55L455.32,171.35L456.55,171.19L457.78,171.07L459.01,170.98L460.24,170.93L461.46,170.92L462.69,170.93L463.92,170.98L465.15,171.06L466.38,171.16L467.61,171.29L468.84,171.44L470.06,171.62L471.29,171.82L472.52,172.05L473.75,172.29L474.98,172.56L476.21,172.84L477.44,173.14L478.66,173.46L479.89,173.79L481.12,174.14L482.35,174.50L483.58,174.88L484.81,175.27L486.03,175.67L487.26,176.09L488.49,176.51L489.72,176.95L490.95,177.40L492.18,177.85L493.41,178.32L494.63,178.79L495.86,179.27L497.09,179.76L498.32,180.26L499.55,180.76L500.78,181.27L502.00,181.78L503.23,182.30L504.46,182.83L505.69,183.36L506.92,183.90L508.15,184.44L509.38,184.98L510.60,185.53L511.83,186.08L513.06,186.63L514.29,187.19L515.52,187.75L516.75,188.31L517.98,188.87L519.20,189.44L520.43,190.00L521.66,190.57L522.89,191.15L524.12,191.72L525.35,192.29L526.57,192.86L527.80,193.44L529.03,194.02L530.26,194.59L531.49,195.17L532.72,195.74L533.95,196.32L535.17,196.90L536.40,197.47L537.63,198.05L538.86,198.63L540.09,199.20L541.32,199.78L542.55,200.35L543.77,200.93L545.00,201.50L546.23,202.07L547.46,202.64L548.69,203.21L549.92,203.78L551.14,204.35L552.37,204.92L553.60,205.49L554.83,206.05L556.06,206.61L557.29,207.18L558.52,207.74L559.74,208.30L560.97,208.85L562.20,209.41L563.43,209.96L564.66,210.52L565.89,211.07L567.11,211.62L568.34,212.16L569.57,212.71L570.80,213.25L572.03,213.80L573.26,214.34L574.49,214.88L575.71,215.41L576.94,215.95L578.17,216.48L579.40,217.01L580.63,217.54L581.86,218.07L583.09,218.59L584.31,219.11L585.54,219.63L586.77,220.15L588.00,220.67L589.23,221.19L590.46,221.70L591.68,222.21L592.91,222.72L594.14,223.22L595.37,223.73L596.60,224.23L597.83,224.73L599.06,225.23L600.28,225.72L601.51,226.22L602.74,226.71L603.97,227.20L605.20,227.69L606.43,228.17L607.66,228.66L608.88,229.14L610.11,229.62L611.34,230.09L612.57,230.57L613.80,231.04L615.03,231.51L616.25,231.98L617.48,232.45L618.71,232.91L619.94,233.37L621.17,233.83L622.40,234.29L623.63,234.75L624.85,235.20L626.08,235.65L627.31,236.10L628.54,236.55L629.77,237.00L631.00,237.44L632.23,237.88L633.45,238.32L634.68,238.76L635.91,239.20L637.14,239.63L638.37,240.06L639.60,240.49L640.82,240.92L642.05,241.34L643.28,241.77L644.51,242.19" stroke="#8c8c8c" stroke-width="1.5" stroke-dasharray="1.6,2.1"/><path d="M381.27,-32.80L381.44,-25.53L381.62,-18.51L381.80,-11.72L381.98,-5.17L382.15,1.17L382.33,7.29L382.51,13.21L382.68,18.92L382.86,24.44L383.04,29.78L383.22,34.93L383.39,39.91L383.57,44.73L383.75,49.38L383.92,53.87L384.10,58.21L384.28,62.41L384.46,66.46L384.63,70.37L384.81,74.15L384.99,77.81L385.16,81.33L385.34,84.74L385.52,88.03L385.69,91.21L385.87,94.28L386.05,97.24L386.23,100.10L386.40,102.86L386.58,105.53L386.76,108.10L386.93,110.58L387.11,112.98L387.29,115.29L387.47,117.51L387.64,119.66L387.82,121.74L388.00,123.74L388.17,125.66L388.35,127.52L388.53,129.31L388.71,131.03L388.88,132.69L389.06,134.29L389.24,135.83L389.41,137.31L389.59,138.74L389.77,140.11L389.95,141.43L390.12,142.69L390.30,143.91L390.48,145.08L390.65,146.21L390.83,147.29L391.01,148.32L391.18,149.32L391.36,150.27L391.54,151.18L391.72,152.05L391.89,152.89L392.07,153.69L392.25,154.46L392.42,155.19L392.60,155.89L392.78,156.56L392.96,157.19L393.13,157.80L393.31,158.37L393.49,158.92L393.66,159.44L393.84,159.94L394.02,160.41L394.20,160.85L394.37,161.27L394.55,161.67L394.73,162.05L394.90,162.40L395.08,162.73L395.26,163.04L395.44,163.33L395.61,163.61L395.79,163.86L395.97,164.09L396.14,164.31L396.32,164.51L396.50,164.70L396.68,164.86L396.85,165.02L397.03,165.15L397.21,165.28L397.38,165.39L397.56,165.48L397.74,165.57L397.91,165.64L398.09,165.70L398.27,165.74L398.45,165.78L398.62,165.80L398.80,165.82L398.98,165.82L399.15,165.81L399.33,165.79L399.51,165.77L399.69,165.73L399.86,165.69L400.04,165.64L401.27,165.07L402.50,164.20L403.73,163.10L404.95,161.83L406.18,160.44L407.41,158.96L408.64,157.44L409.87,155.89L411.10,154.33L412.32,152.80L413.55,151.29L414.78,149.82L416.01,148.40L417.24,147.03L418.47,145.72L419.70,144.48L420.92,143.31L422.15,142.20L423.38,141.16L424.61,140.19L425.84,139.30L427.07,138.47L428.30,137.70L429.52,137.01L430.75,136.38L431.98,135.81L433.21,135.31L434.44,134.86L435.67,134.47L436.89,134.14L438.12,133.86L439.35,133.64L440.58,133.46L441.81,133.33L443.04,133.25L444.27,133.22L445.49,133.22L446.72,133.27L447.95,133.35L449.18,133.47L450.41,133.63L451.64,133.82L452.87,134.05L454.09,134.30L455.32,134.58L456.55,134.90L457.78,135.23L459.01,135.60L460.24,135.98L461.46,136.39L462.69,136.83L463.92,137.28L465.15,137.75L466.38,138.24L467.61,138.75L468.84,139.27L470.06,139.81L471.29,140.37L472.52,140.94L473.75,141.52L474.98,142.11L476.21,142.72L477.44,143.34L478.66,143.97L479.89,144.60L481.12,145.25L482.35,145.90L483.58,146.57L484.81,147.24L486.03,147.92L487.26,148.60L488.49,149.29L489.72,149.99L490.95,150.69L492.18,151.39L493.41,152.10L494.63,152.82L495.86,153.53L497.09,154.25L498.32,154.98L499.55,155.70L500.78,156.43L502.00,157.16L503.23,157.90L504.46,158.63L505.69,159.37L506.92,160.10L508.15,160.84L509.38,161.58L510.60,162.32L511.83,163.06L513.06,163.80L514.29,164.54L515.52,165.28L516.75,166.01L517.98,166.75L519.20,167.49L520.43,168.23L521.66,168.96L522.89,169.70L524.12,170.43L525.35,171.16L526.57,171.89L527.80,172.62L529.03,173.35L530.26,174.07L531.49,174.80L532.72,175.52L533.95,176.24L535.17,176.96L536.40,177.68L537.63,178.39L538.86,179.10L540.09,179.81L541.32,180.52L542.55,181.22L543.77,181.93L545.00,182.62L546.23,183.32L547.46,184.02L548.69,184.71L549.92,185.40L551.14,186.09L552.37,186.77L553.60,187.45L554.83,188.13L556.06,188.81L557.29,189.48L558.52,190.15L559.74,190.82L560.97,191.48L562.20,192.14L563.43,192.80L564.66,193.46L565.89,194.11L567.11,194.76L568.34,195.41L569.57,196.05L570.80,196.70L572.03,197.33L573.26,197.97L574.49,198.60L575.71,199.23L576.94,199.86L578.17,200.48L579.40,201.10L580.63,201.72L581.86,202.34L583.09,202.95L584.31,203.56L585.54,204.16L586.77,204.77L588.00,205.37L589.23,205.96L590.46,206.56L591.68,207.15L592.91,207.74L594.14,208.32L595.37,208.90L596.60,209.48L597.83,210.06L599.06,210.63L600.28,211.20L601.51,211.77L602.74,212.34L603.97,212.90L605.20,213.46L606.43,214.02L607.66,214.57L608.88,215.12L610.11,215.67L611.34,216.21L612.57,216.76L613.80,217.30L615.03,217.83L616.25,218.37L617.48,218.90L618.71,219.43L619.94,219.95L621.17,220.48L622.40,221.00L623.63,221.52L624.85,222.03L626.08,222.55L627.31,223.06L628.54,223.56L629.77,224.07L631.00,224.57L632.23,225.07L633.45,225.57L634.68,226.06L635.91,226.56L637.14,227.05L638.37,227.53L639.60,228.02L640.82,228.50L642.05,228.98L643.28,229.46L644.51,229.93" stroke="#7c7c7c" stroke-width="1.5" stroke-dasharray="4.9,1.6"/><path d="M386.05,-39.99L386.23,-36.18L386.40,-32.48L386.58,-28.89L386.76,-25.41L386.93,-22.02L387.11,-18.74L387.29,-15.55L387.47,-12.46L387.64,-9.45L387.82,-6.54L388.00,-3.71L388.17,-0.96L388.35,1.71L388.53,4.30L388.71,6.81L388.88,9.26L389.06,11.62L389.24,13.92L389.41,16.16L389.59,18.33L389.77,20.43L389.95,22.47L390.12,24.46L390.30,26.38L390.48,28.25L390.65,30.07L390.83,31.83L391.01,33.54L391.18,35.20L391.36,36.81L391.54,38.38L391.72,39.89L391.89,41.37L392.07,42.80L392.25,44.19L392.42,45.53L392.60,46.84L392.78,48.11L392.96,49.34L393.13,50.54L393.31,51.70L393.49,52.82L393.66,53.91L393.84,54.97L394.02,56.00L394.20,57.00L394.37,57.96L394.55,58.90L394.73,59.81L394.90,60.69L395.08,61.55L395.26,62.38L395.44,63.18L395.61,63.96L395.79,64.72L395.97,65.45L396.14,66.16L396.32,66.85L396.50,67.52L396.68,68.16L396.85,68.79L397.03,69.40L397.21,69.99L397.38,70.56L397.56,71.11L397.74,71.64L397.91,72.16L398.09,72.66L398.27,73.15L398.45,73.62L398.62,74.07L398.80,74.51L398.98,74.93L399.15,75.35L399.33,75.74L399.51,76.13L399.69,76.50L399.86,76.86L400.04,77.21L401.27,79.32L402.50,80.97L403.73,82.25L404.95,83.22L406.18,83.95L407.41,84.49L408.64,84.87L409.87,85.13L411.10,85.31L412.32,85.41L413.55,85.47L414.78,85.49L416.01,85.50L417.24,85.50L418.47,85.50L419.70,85.52L420.92,85.54L422.15,85.59L423.38,85.66L424.61,85.76L425.84,85.89L427.07,86.05L428.30,86.24L429.52,86.46L430.75,86.72L431.98,87.01L433.21,87.33L434.44,87.68L435.67,88.07L436.89,88.49L438.12,88.93L439.35,89.41L440.58,89.91L441.81,90.44L443.04,91.00L444.27,91.59L445.49,92.20L446.72,92.83L447.95,93.48L449.18,94.16L450.41,94.85L451.64,95.57L452.87,96.30L454.09,97.05L455.32,97.82L456.55,98.60L457.78,99.40L459.01,100.21L460.24,101.03L461.46,101.87L462.69,102.72L463.92,103.58L465.15,104.44L466.38,105.32L467.61,106.21L468.84,107.10L470.06,108.00L471.29,108.91L472.52,109.83L473.75,110.75L474.98,111.67L476.21,112.60L477.44,113.54L478.66,114.48L479.89,115.42L481.12,116.36L482.35,117.31L483.58,118.26L484.81,119.21L486.03,120.16L487.26,121.11L488.49,122.07L489.72,123.02L490.95,123.98L492.18,124.93L493.41,125.89L494.63,126.84L495.86,127.80L497.09,128.75L498.32,129.70L499.55,130.65L500.78,131.60L502.00,132.55L503.23,133.49L504.46,134.43L505.69,135.37L506.92,136.31L508.15,137.25L509.38,138.18L510.60,139.11L511.83,140.04L513.06,140.96L514.29,141.89L515.52,142.81L516.75,143.72L517.98,144.63L519.20,145.54L520.43,146.45L521.66,147.35L522.89,148.25L524.12,149.14L525.35,150.03L526.57,150.92L527.80,151.80L529.03,152.68L530.26,153.56L531.49,154.43L532.72,155.30L533.95,156.16L535.17,157.02L536.40,157.88L537.63,158.73L538.86,159.57L540.09,160.42L541.32,161.26L542.55,162.09L543.77,162.92L545.00,163.75L546.23,164.57L547.46,165.39L548.69,166.20L549.92,167.01L551.14,167.82L552.37,168.62L553.60,169.42L554.83,170.21L556.06,171.00L557.29,171.78L558.52,172.56L559.74,173.34L560.97,174.11L562.20,174.88L563.43,175.64L564.66,176.40L565.89,177.16L567.11,177.91L568.34,178.66L569.57,179.40L570.80,180.14L572.03,180.87L573.26,181.60L574.49,182.33L575.71,183.05L576.94,183.77L578.17,184.49L579.40,185.20L580.63,185.90L581.86,186.61L583.09,187.30L584.31,188.00L585.54,188.69L586.77,189.38L588.00,190.06L589.23,190.74L590.46,191.42L591.68,192.09L592.91,192.75L594.14,193.42L595.37,194.08L596.60,194.74L597.83,195.39L599.06,196.04L600.28,196.68L601.51,197.33L602.74,197.96L603.97,198.60L605.20,199.23L606.43,199.86L607.66,200.48L608.88,201.10L610.11,201.72L611.34,202.33L612.57,202.94L613.80,203.55L615.03,204.15L616.25,204.75L617.48,205.35L618.71,205.95L619.94,206.54L621.17,207.12L622.40,207.71L623.63,208.29L624.85,208.86L626.08,209.44L627.31,210.01L628.54,210.57L629.77,211.14L631.00,211.70L632.23,212.26L633.45,212.81L634.68,213.37L635.91,213.91L637.14,214.46L638.37,215.00L639.60,215.54L640.82,216.08L642.05,216.62L643.28,217.15L644.51,217.67" stroke="#6a6a6a" stroke-width="1.5" stroke-dasharray="7.9,2.1,1.1,2.1"/><circle cx="459.3" cy="149.9" r="2.7" fill="#3a2c98" stroke="none"/><circle cx="585.8" cy="210.2" r="2.7" fill="#3a2c98" stroke="none"/><path d="M378.70,242.00C378.75,241.58 378.57,244.00 379.00,239.50C379.43,235.00 380.57,222.42 381.30,215.00C382.03,207.58 382.77,200.83 383.40,195.00C384.03,189.17 384.33,185.83 385.10,180.00C385.87,174.17 387.25,165.00 388.00,160.00C388.75,155.00 388.90,153.90 389.60,150.00C390.30,146.10 391.50,140.20 392.20,136.60C392.90,133.00 393.30,131.08 393.80,128.40C394.30,125.72 394.70,123.13 395.20,120.50C395.70,117.87 396.25,114.93 396.80,112.60C397.35,110.27 397.90,108.40 398.50,106.50C399.10,104.60 399.80,102.78 400.40,101.20C401.00,99.62 401.53,98.25 402.10,97.00C402.67,95.75 403.20,94.70 403.80,93.70C404.40,92.70 405.03,91.80 405.70,91.00C406.37,90.20 407.08,89.52 407.80,88.90C408.52,88.28 409.23,87.77 410.00,87.30C410.77,86.83 411.60,86.40 412.40,86.10C413.20,85.80 414.02,85.63 414.80,85.50C415.58,85.37 416.15,85.23 417.10,85.30C418.05,85.37 419.43,85.62 420.50,85.90C421.57,86.18 422.47,86.55 423.50,87.00C424.53,87.45 425.55,87.88 426.70,88.60C427.85,89.32 429.17,90.32 430.40,91.30C431.63,92.28 432.83,93.37 434.10,94.50C435.37,95.63 436.68,96.87 438.00,98.10C439.32,99.33 440.83,100.73 442.00,101.90C443.17,103.07 443.72,103.67 445.00,105.10C446.28,106.53 448.13,108.48 449.70,110.50C451.27,112.52 452.73,115.02 454.40,117.20C456.07,119.38 457.98,121.60 459.70,123.60C461.42,125.60 462.98,127.42 464.70,129.20C466.42,130.98 468.33,132.77 470.00,134.30C471.67,135.83 472.70,136.57 474.70,138.40C476.70,140.23 479.55,142.98 482.00,145.30C484.45,147.62 487.22,149.93 489.40,152.30C491.58,154.67 493.33,157.33 495.10,159.50C496.87,161.67 498.35,163.38 500.00,165.30C501.65,167.22 503.03,168.88 505.00,171.00C506.97,173.12 509.55,175.75 511.80,178.00C514.05,180.25 516.25,182.45 518.50,184.50C520.75,186.55 523.05,188.33 525.30,190.30C527.55,192.27 529.68,194.35 532.00,196.30C534.32,198.25 536.43,199.87 539.20,202.00C541.97,204.13 545.72,207.02 548.60,209.10C551.48,211.18 553.85,212.75 556.50,214.50C559.15,216.25 562.17,218.13 564.50,219.60C566.83,221.07 568.45,222.07 570.50,223.30C572.55,224.53 574.12,225.45 576.80,227.00C579.48,228.55 583.73,230.83 586.60,232.60C589.47,234.37 592.18,236.37 594.00,237.60C595.82,238.83 596.33,239.27 597.50,240.00C598.67,240.73 600.42,241.67 601.00,242.00" stroke="#1b1f80" stroke-width="2.4"/><path d="M393.90,242.00C393.95,241.58 393.90,243.50 394.20,239.50C394.50,235.50 395.20,225.42 395.70,218.00C396.20,210.58 396.82,201.33 397.20,195.00C397.58,188.67 397.57,185.83 398.00,180.00C398.43,174.17 399.33,165.00 399.80,160.00C400.27,155.00 400.40,154.17 400.80,150.00C401.20,145.83 401.78,139.17 402.20,135.00C402.62,130.83 402.80,128.33 403.30,125.00C403.80,121.67 404.63,118.08 405.20,115.00C405.77,111.92 406.12,109.40 406.70,106.50C407.28,103.60 408.08,99.97 408.70,97.60C409.32,95.23 409.80,93.78 410.40,92.30C411.00,90.82 411.65,89.65 412.30,88.70C412.95,87.75 413.60,87.12 414.30,86.60C415.00,86.08 415.78,85.72 416.50,85.60C417.22,85.48 417.88,85.52 418.60,85.90C419.32,86.28 420.07,87.17 420.80,87.90C421.53,88.63 422.27,89.45 423.00,90.30C423.73,91.15 424.53,92.08 425.20,93.00C425.87,93.92 426.38,94.82 427.00,95.80C427.62,96.78 428.33,97.95 428.90,98.90C429.47,99.85 429.90,100.63 430.40,101.50C430.90,102.37 431.40,103.02 431.90,104.10C432.40,105.18 432.92,106.68 433.40,108.00C433.88,109.32 434.17,110.50 434.80,112.00C435.43,113.50 436.38,115.33 437.20,117.00C438.02,118.67 438.68,119.92 439.70,122.00C440.72,124.08 442.07,127.03 443.30,129.50C444.53,131.97 445.85,134.02 447.10,136.80C448.35,139.58 449.58,143.07 450.80,146.20C452.02,149.33 453.12,152.72 454.40,155.60C455.68,158.48 457.17,160.72 458.50,163.50C459.83,166.28 460.82,168.93 462.40,172.30C463.98,175.67 466.12,179.92 468.00,183.70C469.88,187.48 471.78,191.42 473.70,195.00C475.62,198.58 477.60,201.80 479.50,205.20C481.40,208.60 482.85,211.68 485.10,215.40C487.35,219.12 490.32,223.48 493.00,227.50C495.68,231.52 499.60,237.08 501.20,239.50C502.80,241.92 502.37,241.58 502.60,242.00" stroke="#2e42aa" stroke-width="2.2"/><path d="M385.60,20.00C385.65,20.67 385.68,19.83 385.90,24.00C386.12,28.17 386.60,39.00 386.90,45.00C387.20,51.00 387.33,55.83 387.70,60.00C388.07,64.17 388.75,66.63 389.10,70.00C389.45,73.37 389.57,76.87 389.80,80.20C390.03,83.53 390.30,87.08 390.50,90.00C390.70,92.92 390.83,95.28 391.00,97.70C391.17,100.12 391.42,103.37 391.50,104.50" stroke="#0b843e" stroke-width="2.6"/><path d="M399.40,119.30C399.80,119.43 401.00,120.07 401.80,120.10C402.60,120.13 403.17,120.02 404.20,119.50C405.23,118.98 406.70,117.87 408.00,117.00C409.30,116.13 410.33,115.55 412.00,114.30C413.67,113.05 416.00,110.88 418.00,109.50C420.00,108.12 422.00,106.98 424.00,106.00C426.00,105.02 428.00,104.17 430.00,103.60C432.00,103.03 434.00,102.70 436.00,102.60C438.00,102.50 440.17,102.73 442.00,103.00C443.83,103.27 445.33,103.70 447.00,104.20C448.67,104.70 450.33,105.28 452.00,106.00C453.67,106.72 455.33,107.57 457.00,108.50C458.67,109.43 460.33,110.48 462.00,111.60C463.67,112.72 465.17,113.83 467.00,115.20C468.83,116.57 471.17,118.37 473.00,119.80C474.83,121.23 476.25,122.40 478.00,123.80C479.75,125.20 481.50,126.45 483.50,128.20C485.50,129.95 487.75,132.12 490.00,134.30C492.25,136.48 494.83,139.08 497.00,141.30C499.17,143.52 501.08,145.55 503.00,147.60C504.92,149.65 506.90,151.63 508.50,153.60C510.10,155.57 511.37,157.53 512.60,159.40C513.83,161.27 515.02,163.00 515.90,164.80C516.78,166.60 517.45,168.60 517.90,170.20C518.35,171.80 518.65,173.22 518.60,174.40C518.55,175.58 518.20,176.70 517.60,177.30C517.00,177.90 516.02,178.07 515.00,178.00C513.98,177.93 513.33,177.80 511.50,176.90C509.67,176.00 506.50,174.05 504.00,172.60C501.50,171.15 498.93,169.57 496.50,168.20C494.07,166.83 491.82,165.67 489.40,164.40C486.98,163.13 484.45,161.82 482.00,160.60C479.55,159.38 476.87,158.07 474.70,157.10C472.53,156.13 470.78,155.52 469.00,154.80C467.22,154.08 465.80,153.32 464.00,152.80C462.20,152.28 459.17,151.88 458.20,151.70M406.50,152.50C407.08,152.32 408.75,151.95 410.00,151.40C411.25,150.85 412.67,149.93 414.00,149.20C415.33,148.47 416.50,147.70 418.00,147.00C419.50,146.30 420.75,145.57 423.00,145.00C425.25,144.43 428.38,143.70 431.50,143.60C434.62,143.50 438.28,143.83 441.70,144.40C445.12,144.97 449.08,146.18 452.00,147.00C454.92,147.82 457.07,148.72 459.20,149.30C461.33,149.88 463.87,150.30 464.80,150.50M391.50,104.50L399.40,119.30M391.50,104.50L391.60,127.50L400.40,152.30L406.50,152.50" stroke="#0b843e" stroke-width="1.8"/><path d="M468.10,127.60C468.10,127.38 471.27,128.70 473.00,129.30C474.73,129.90 476.67,130.47 478.50,131.20C480.33,131.93 482.15,132.80 484.00,133.70C485.85,134.60 487.77,135.58 489.60,136.60C491.43,137.62 493.17,138.70 495.00,139.80C496.83,140.90 498.77,142.12 500.60,143.20C502.43,144.28 504.17,145.27 506.00,146.30C507.83,147.33 509.77,148.38 511.60,149.40C513.43,150.42 515.27,151.47 517.00,152.40C518.73,153.33 520.17,153.97 522.00,155.00C523.83,156.03 525.83,157.32 528.00,158.60C530.17,159.88 533.00,161.53 535.00,162.70C537.00,163.87 538.00,164.43 540.00,165.60C542.00,166.77 544.60,168.30 547.00,169.70C549.40,171.10 551.90,172.53 554.40,174.00C556.90,175.47 559.40,176.97 562.00,178.50C564.60,180.03 567.40,181.67 570.00,183.20C572.60,184.73 575.10,186.23 577.60,187.70C580.10,189.17 582.60,190.58 585.00,192.00C587.40,193.42 589.50,194.73 592.00,196.20C594.50,197.67 597.67,199.40 600.00,200.80C602.33,202.20 604.08,203.35 606.00,204.60C607.92,205.85 609.75,207.07 611.50,208.30C613.25,209.53 615.00,210.85 616.50,212.00C618.00,213.15 619.17,214.10 620.50,215.20C621.83,216.30 623.32,217.53 624.50,218.60C625.68,219.67 626.77,220.60 627.60,221.60C628.43,222.60 629.33,223.73 629.50,224.60C629.67,225.47 629.27,226.30 628.60,226.80C627.93,227.30 626.77,227.52 625.50,227.60C624.23,227.68 622.50,227.52 621.00,227.30C619.50,227.08 618.17,226.80 616.50,226.30C614.83,225.80 612.92,225.12 611.00,224.30C609.08,223.48 606.83,222.35 605.00,221.40C603.17,220.45 602.00,219.73 600.00,218.60C598.00,217.47 595.37,216.02 593.00,214.60C590.63,213.18 588.30,211.72 585.80,210.10C583.30,208.48 580.63,206.62 578.00,204.90C575.37,203.18 572.67,201.52 570.00,199.80C567.33,198.08 564.60,196.35 562.00,194.60C559.40,192.85 556.90,191.10 554.40,189.30C551.90,187.50 549.40,185.52 547.00,183.80C544.60,182.08 542.42,180.63 540.00,179.00C537.58,177.37 535.00,175.68 532.50,174.00C530.00,172.32 527.57,170.67 525.00,168.90C522.43,167.13 519.35,165.00 517.10,163.40C514.85,161.80 513.33,160.67 511.50,159.30C509.67,157.93 507.93,156.62 506.10,155.20C504.27,153.78 502.33,152.27 500.50,150.80C498.67,149.33 496.93,147.88 495.10,146.40C493.27,144.92 491.35,143.37 489.50,141.90C487.65,140.43 485.83,138.95 484.00,137.60C482.17,136.25 480.33,134.97 478.50,133.80C476.67,132.63 474.73,131.63 473.00,130.60C471.27,129.57 468.10,127.82 468.10,127.60Z" stroke="#7e1e88" stroke-width="1.6"/></g><g fill="none"><path d="M358.1,23.6V239.5H636.9" stroke="#b0b0b0" stroke-width="1.8"/><path d="M355.2,23.60H358M355.2,85.50H358M355.2,147.40H358M355.2,209.30H358M416.90,239.5V241.8M501.20,239.5V241.8M585.50,239.5V241.8" stroke="#999" stroke-width="1"/><rect x="505.6" y="3.8" width="177.9" height="112.6" rx="3" fill="#fff" fill-opacity="0.8" stroke="#ddd" stroke-width="1"/><path d="M512.4,18.9H553.6" stroke="#cfcfcf" stroke-width="1.5"/><path d="M512.4,45.3H553.6" stroke="#8c8c8c" stroke-width="1.5" stroke-dasharray="1.6,2.1"/><path d="M512.4,72.1H553.6" stroke="#7c7c7c" stroke-width="1.5" stroke-dasharray="4.9,1.6"/><path d="M512.4,98.6H553.6" stroke="#6a6a6a" stroke-width="1.5" stroke-dasharray="7.9,2.1,1.1,2.1"/></g><g fill="none"><path d="M182.5,226.9V361" stroke="#e3e32a" stroke-width="1.3" stroke-dasharray="4,1.75"/><rect x="42.3" y="226.4" width="238.3" height="134.8" stroke="#555" stroke-width="0.9"/><path d="M39.8,361.20H42.3M39.8,293.80H42.3M39.8,226.40H42.3M98.20,361.2V363.7M161.40,361.2V363.7M224.60,361.2V363.7M302.2,344.50H304.9M302.2,317.68H304.9M302.2,290.85H304.9M302.2,264.02H304.9M302.2,237.20H304.9" stroke="#333" stroke-width="0.9"/><defs><linearGradient id="rb" x1="0" y1="1" x2="0" y2="0"><stop offset="0.0" stop-color="#053061"/><stop offset="0.1" stop-color="#2166ac"/><stop offset="0.2" stop-color="#4393c3"/><stop offset="0.3" stop-color="#92c5de"/><stop offset="0.4" stop-color="#d1e5f0"/><stop offset="0.5" stop-color="#f7f7f7"/><stop offset="0.6" stop-color="#fddbc7"/><stop offset="0.7" stop-color="#f4a582"/><stop offset="0.8" stop-color="#d6604d"/><stop offset="0.9" stop-color="#b2182b"/><stop offset="1.0" stop-color="#67001f"/></linearGradient></defs><rect x="295.3" y="226.6" width="6.9" height="134.4" fill="url(#rb)" stroke="#333" stroke-width="0.9"/></g><text class="b" transform="translate(-0.51,11.68) scale(1.1053,1.0067)" font-size="17">(a)</text><text transform="translate(22.41,163.60) scale(1.0533,1.0625)" font-size="11">0.5</text><text transform="translate(21.79,132.80) scale(1.1143,1.0625)" font-size="11">1.0</text><text transform="translate(21.81,102.00) scale(1.0929,1.0625)" font-size="11">1.5</text><text transform="translate(22.51,71.20) scale(1.0667,1.0625)" font-size="11">2.0</text><text transform="translate(22.51,40.40) scale(1.0467,1.0625)" font-size="11">2.5</text><text transform="translate(43.15,190.90) scale(1.0733,1.0375)" font-size="11">0.0</text><text transform="translate(80.79,190.90) scale(1.0533,1.0375)" font-size="11">0.1</text><text transform="translate(118.43,190.90) scale(1.0467,1.0375)" font-size="11">0.2</text><text transform="translate(156.07,190.90) scale(1.0600,1.0375)" font-size="11">0.3</text><text transform="translate(193.71,190.90) scale(1.0800,1.0375)" font-size="11">0.4</text><text transform="translate(231.35,190.90) scale(1.0533,1.0375)" font-size="11">0.5</text><text transform="translate(17.74,109.90) rotate(-90) scale(1.1105,0.9800)" font-size="11"><tspan font-style="italic">ρ</tspan>/<tspan font-style="italic">ρ</tspan><tspan font-size="7.70" dy="2.42" font-style="italic">c</tspan></text><text transform="translate(137.90,203.00) scale(1.4000,1.1500)" font-size="11"><tspan font-style="italic">t</tspan> / <tspan font-style="italic">T</tspan></text><text transform="translate(172.90,37.98) scale(1.2288,1.0100)" font-size="10"><tspan font-style="italic">ρ</tspan><tspan font-size="7.00" dy="2.20">0</tspan><tspan dy="-2.20">/</tspan><tspan font-style="italic">ρ</tspan><tspan font-size="7.00" dy="2.20" font-style="italic">c</tspan><tspan dy="-2.20"> = 0.67</tspan></text><text transform="translate(172.90,53.76) scale(1.2288,1.0200)" font-size="10"><tspan font-style="italic">ρ</tspan><tspan font-size="7.00" dy="2.20">0</tspan><tspan dy="-2.20">/</tspan><tspan font-style="italic">ρ</tspan><tspan font-size="7.00" dy="2.20" font-style="italic">c</tspan><tspan dy="-2.20"> = 0.33</tspan></text><text class="b" transform="translate(272.44,13.54) scale(1.1579,1.0200)" font-size="17">(b)</text><text class="b" transform="translate(323.31,31.20) scale(1.0800,1.0214)" font-size="19.5">1.2</text><text class="b" transform="translate(323.33,93.10) scale(1.0615,1.0214)" font-size="19.5">1.0</text><text class="b" transform="translate(322.45,155.00) scale(1.1360,1.0214)" font-size="19.5">0.8</text><text class="b" transform="translate(322.45,216.90) scale(1.1400,1.0214)" font-size="19.5">0.6</text><text class="b" transform="translate(411.85,257.80) scale(0.9444,0.9714)" font-size="19.5">1</text><text class="b" transform="translate(495.39,257.80) scale(1.0111,0.9714)" font-size="19.5">2</text><text class="b" transform="translate(579.75,257.80) scale(1.0444,0.9714)" font-size="19.5">3</text><text class="b" transform="translate(315.92,149.80) rotate(-90) scale(1.0382,0.8947)" font-size="19.5"><tspan font-style="italic">p</tspan>/<tspan font-style="italic">p</tspan><tspan font-size="13.65" dy="4.29" font-style="italic">c</tspan></text><text class="b" transform="translate(473.34,277.21) scale(1.1615,0.8474)" font-size="19.5"><tspan font-style="italic">w</tspan>/<tspan font-style="italic">w</tspan><tspan font-size="13.65" dy="4.29" font-style="italic">c</tspan></text><text class="b" transform="translate(567.74,24.15) scale(1.3577,1.0625)" font-size="16.5"><tspan font-style="italic">θ</tspan>/<tspan font-style="italic">θ</tspan><tspan font-size="11.55" dy="3.63" font-style="italic">c</tspan><tspan dy="-3.63"> = 0.85</tspan></text><text class="b" transform="translate(567.73,50.17) scale(1.3691,1.0312)" font-size="16.5"><tspan font-style="italic">θ</tspan>/<tspan font-style="italic">θ</tspan><tspan font-size="11.55" dy="3.63" font-style="italic">c</tspan><tspan dy="-3.63"> = 0.9</tspan></text><text class="b" transform="translate(567.74,77.50) scale(1.3577,1.0500)" font-size="16.5"><tspan font-style="italic">θ</tspan>/<tspan font-style="italic">θ</tspan><tspan font-size="11.55" dy="3.63" font-style="italic">c</tspan><tspan dy="-3.63"> = 0.95</tspan></text><text class="b" transform="translate(567.73,104.10) scale(1.3691,1.0250)" font-size="16.5"><tspan font-style="italic">θ</tspan>/<tspan font-style="italic">θ</tspan><tspan font-size="11.55" dy="3.63" font-style="italic">c</tspan><tspan dy="-3.63"> = 1.0</tspan></text><text class="b" transform="translate(-0.91,210.50) scale(1.1056,1.0333)" font-size="17">(c)</text><text class="b" transform="translate(138.43,222.30) scale(1.1302,1.0000)" font-size="24"><tspan font-style="italic">ρ</tspan>/<tspan font-style="italic">ρ</tspan><tspan font-size="16.80" dy="5.28" font-style="italic">c</tspan></text><text class="b" transform="translate(24.23,369.60) scale(1.0900,1.0533)" font-size="21.5">0</text><text class="b" transform="translate(24.25,302.20) scale(1.0333,1.0533)" font-size="21.5">1</text><text class="b" transform="translate(24.53,234.80) scale(0.9900,1.0533)" font-size="21.5">2</text><text class="b" transform="translate(73.73,382.60) scale(1.1725,1.0929)" font-size="21">−2.5</text><text class="b" transform="translate(145.01,382.60) scale(1.0929,1.0929)" font-size="21">0.0</text><text class="b" transform="translate(208.29,382.60) scale(1.1111,1.0929)" font-size="21">2.5</text><text class="b" transform="translate(146.30,405.90) scale(1.1296,1.1133)" font-size="21">x/L</text><text class="b" transform="translate(17.00,307.90) rotate(-90) scale(1.1542,1.0667)" font-size="21">t/T</text><text class="b" transform="translate(306.99,352.20) scale(1.1148,1.0571)" font-size="21">0.5</text><text class="b" transform="translate(306.80,325.38) scale(1.1000,1.0571)" font-size="21">1.0</text><text class="b" transform="translate(306.75,298.55) scale(1.1231,1.0571)" font-size="21">1.5</text><text class="b" transform="translate(307.11,271.72) scale(1.0893,1.0571)" font-size="21">2.0</text><text class="b" transform="translate(307.09,244.90) scale(1.1111,1.0571)" font-size="21">2.5</text></svg>
<script>(function(){
var cv=document.getElementById('hm');if(!cv||!cv.getContext)return;
var W=cv.width,H=cv.height,ctx=cv.getContext('2d'),img=ctx.createImageData(W,H),D=img.data;
var CM=[[5,48,97],[33,102,172],[67,147,195],[146,197,222],[209,229,240],[247,247,247],[253,219,199],[244,165,130],[214,96,77],[178,24,43],[103,0,31]];
function L(tab,t){if(t<=tab[0][0])return tab[0][1];for(var k=1;k<tab.length;k++){if(t<=tab[k][0]){var a=tab[k-1],b=tab[k],u=(t-a[0])/(b[0]-a[0]);return a[1]+u*(b[1]-a[1]);}}return tab[tab.length-1][1];}
function Ls(tab,t){/* smooth (catmull-rom) interpolation */
 var n=tab.length;if(t<=tab[0][0])return tab[0][1];if(t>=tab[n-1][0])return tab[n-1][1];
 for(var k=1;k<n;k++){if(t<=tab[k][0]){var a=tab[k-1],b=tab[k],u=(t-a[0])/(b[0]-a[0]);
  var m0=k>1?(b[1]-tab[k-2][1])/(b[0]-tab[k-2][0]):(b[1]-a[1])/(b[0]-a[0]);
  var m1=k<n-1?(tab[k+1][1]-a[1])/(tab[k+1][0]-a[0]):(b[1]-a[1])/(b[0]-a[0]);
  var h=b[0]-a[0],u2=u*u,u3=u2*u;
  return (2*u3-3*u2+1)*a[1]+(u3-2*u2+u)*h*m0+(-2*u3+3*u2)*b[1]+(u3-u2)*h*m1;}}
 return tab[n-1][1];}
var XF=[[0, 0], [0.018, 0.22], [0.047, 0.46], [0.064, 0.58], [0.104, 0.84], [0.143, 1.04], [0.193, 1.27], [0.242, 1.48], [0.3, 1.66], [0.49, 2.12], [0.7, 2.5], [0.99, 2.92], [1.25, 3.2], [1.5, 3.48], [1.7, 3.75], [1.9, 4.05], [2.05, 4.35]],RR=[[0, 1.4], [0.05, 1.45], [0.45, 1.45], [0.6, 1.38], [0.8, 1.25], [1.0, 1.14], [1.5, 1.0], [2.0, 1.0]],LO=[[0, 1.0], [0.1, 1.5], [0.3, 2.6], [0.5, 4.2], [1.0, 7], [1.5, 9.5], [2.0, 13]],LI=[[0, 0.8], [0.1, 1.1], [0.3, 2.4], [0.5, 4.0], [1.0, 6.5], [1.5, 9.5], [2.0, 15]],SP=[[0, 0], [0.04, 0], [0.07, 0.6], [0.1, 1.05], [0.2, 1.0], [0.3, 0.5], [0.4, 0.22], [0.5, 0]],DIP=0.08,SH=1.0,SWT=[[0, 0.8], [0.15, 0.85], [0.3, 1.1], [0.45, 1.4]],SOFF=0.0,RND=1.0,INBASE=0.45,INEDGE=0.2,CA=0.3,CX=4.95,CXW=0.55,CT=2.1,CTW=0.4,BLOB=0.22,BX=0.85,BT=0.05,BW=0.17,B2=0.16,B2X=1.3,B2T=0.6,OX=42,OY=226;
var VMIN=0.19,VMAX=2.70,SX=25.28,ST=67.4;
for(var j=0;j<H;j++){
 var py=OY+j+0.5, t=(361.2-py)/ST; if(t<0)t=0;
 var X=Ls(XF,t), Xd=(Ls(XF,t+0.01)-Ls(XF,Math.max(0,t-0.01)))/(t>=0.01?0.02:(t+0.01));
 var sl=Xd*SX/ST, fac=1/Math.sqrt(1+sl*sl);
 var R=L(RR,t), lo=L(LO,t), li=L(LI,t), sp=L(SP,t), SW=L(SWT,t);
 for(var i=0;i<W;i++){
  var px=OX+i+0.5, x=(px-161.4-SH*t*t)/SX, s=Math.abs(x), dp=(s-X)*SX*fac;
  var q=X>0.05?s/X:0; if(q>1)q=1;
  var rin=INBASE+INEDGE*(1-Math.exp(-t/0.3))*q*q*q-BLOB*Math.exp(-(x*x)/(BX*BX)-((t-BT)*(t-BT))/(BW*BW))-B2*Math.exp(-(x*x)/(B2X*B2X)-t/B2T);
  var v,u;
  if(dp>=0){u=dp/lo;v=0.67+(R-0.67)*Math.exp(-(Math.sqrt(u*u+RND)-Math.sqrt(RND)));var dd=(dp-(lo*2.2+2))/(2+lo*0.8);v-=DIP*Math.exp(-dd*dd);}
  else{u=-dp/li;v=rin+(R-rin)*Math.exp(-(Math.sqrt(u*u+RND)-Math.sqrt(RND)));}
  v+=sp*Math.exp(-(dp-SOFF)*(dp-SOFF)/(SW*SW));
  v+=CA/(1+Math.exp(-dp/6))*Math.exp(-(s-CX)*(s-CX)/(CXW*CXW)-(t-CT)*(t-CT)/(CTW*CTW));
  var n=(v-VMIN)/(VMAX-VMIN);if(n<0)n=0;if(n>1)n=1;
  var f=n*10,k=Math.floor(f);if(k>9)k=9;var uu=f-k,c0=CM[k],c1=CM[k+1],o=(j*W+i)*4;
  D[o]=c0[0]+(c1[0]-c0[0])*uu;D[o+1]=c0[1]+(c1[1]-c0[1])*uu;D[o+2]=c0[2]+(c1[2]-c0[2])*uu;D[o+3]=255;
 }
}
ctx.putImageData(img,0,0);
})();
</script>
</body></html>
